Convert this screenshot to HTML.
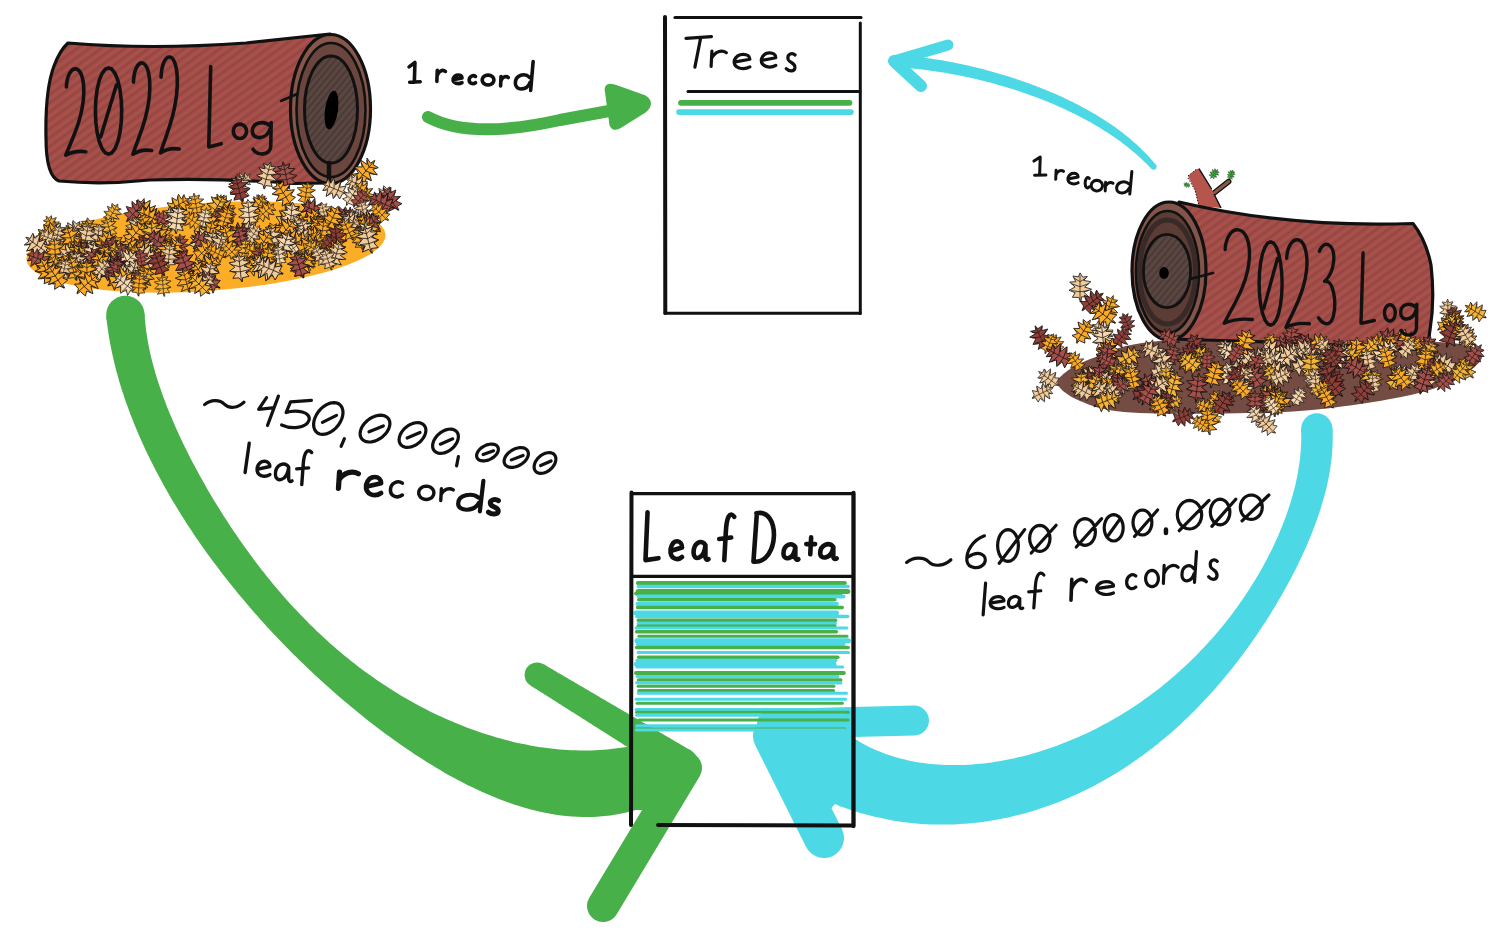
<!DOCTYPE html>
<html><head><meta charset="utf-8"><style>
html,body{margin:0;padding:0;background:#fff;overflow:hidden;}
svg{display:block;}
</style></head><body>
<svg width="1501" height="951" viewBox="0 0 1501 951">
<rect width="1501" height="951" fill="#fff"/>
<defs>
<pattern id="hatch" width="7" height="7" patternUnits="userSpaceOnUse" patternTransform="rotate(-36)">
<rect width="7" height="7" fill="#a24c47"/>
<rect y="0" width="7" height="1.2" fill="#8f4440"/>
<rect y="3.5" width="7" height="1.4" fill="#ad544e"/>
</pattern>
<pattern id="hatch2" width="5" height="5" patternUnits="userSpaceOnUse" patternTransform="rotate(-50)">
<rect width="5" height="5" fill="#574440"/>
<rect y="0" width="5" height="1.2" fill="#463530"/>
<rect y="2.6" width="5" height="0.8" fill="#5f4a44"/>
</pattern>
<g id="lf0"><path d="M0.0,-12.0 L1.2,-8.6 L5.8,-9.3 L3.5,-5.6 L8.9,-4.5 L3.3,-1.3 L8.3,2.0 L4.0,3.3 L6.3,7.8 L1.1,7.1 L0.8,11.0 L-1.1,7.3 L-6.7,8.1 L-3.2,4.0 L-8.9,2.0 L-4.2,-1.6 L-8.7,-5.0 L-2.6,-5.6 L-5.8,-9.4 L-1.2,-8.1Z" stroke="#151010" stroke-width="0.65" stroke-linejoin="round"/><path d="M0,-10 L0,11 M0,-5 L5,-8 M0,-5 L-5,-8 M0,-1 L7,-3.5 M0,-1 L-7,-3.5 M0,3 L7,2 M0,3 L-7,2" fill="none" stroke="#201410" stroke-width="0.6"/></g><g id="lf1"><path d="M0.0,-12.0 L1.7,-8.9 L6.1,-9.0 L3.2,-5.3 L8.2,-4.8 L3.5,-1.0 L8.5,2.1 L3.0,3.1 L6.0,7.8 L1.3,7.5 L0.8,11.0 L-1.3,7.7 L-6.4,7.1 L-3.4,3.3 L-8.3,1.9 L-4.0,-1.0 L-9.0,-4.6 L-3.1,-5.6 L-5.4,-9.3 L-1.0,-8.5Z" stroke="#151010" stroke-width="0.65" stroke-linejoin="round"/><path d="M0,-10 L0,11 M0,-5 L5,-8 M0,-5 L-5,-8 M0,-1 L7,-3.5 M0,-1 L-7,-3.5 M0,3 L7,2 M0,3 L-7,2" fill="none" stroke="#201410" stroke-width="0.6"/></g><g id="lf2"><path d="M0.0,-12.0 L1.2,-8.4 L5.1,-9.2 L3.3,-5.6 L8.6,-4.4 L3.3,-1.2 L8.9,1.5 L4.0,3.8 L6.4,7.2 L1.1,7.9 L0.8,11.0 L-1.7,7.6 L-6.4,7.5 L-3.2,3.5 L-8.4,1.6 L-4.0,-1.0 L-8.2,-5.0 L-3.0,-5.3 L-5.5,-9.2 L-1.5,-8.6Z" stroke="#151010" stroke-width="0.65" stroke-linejoin="round"/><path d="M0,-10 L0,11 M0,-5 L5,-8 M0,-5 L-5,-8 M0,-1 L7,-3.5 M0,-1 L-7,-3.5 M0,3 L7,2 M0,3 L-7,2" fill="none" stroke="#201410" stroke-width="0.6"/></g><g id="lf3"><path d="M0.0,-12.0 L2.2,-8.6 L5.8,-9.2 L2.9,-6.0 L8.6,-5.0 L3.7,-0.7 L9.2,1.0 L3.0,3.2 L6.9,6.9 L1.2,7.0 L0.8,11.0 L-1.1,7.5 L-6.1,7.4 L-3.8,3.8 L-8.7,1.8 L-3.9,-0.8 L-8.2,-4.7 L-3.3,-5.0 L-5.6,-9.5 L-1.3,-8.8Z" stroke="#151010" stroke-width="0.65" stroke-linejoin="round"/><path d="M0,-10 L0,11 M0,-5 L5,-8 M0,-5 L-5,-8 M0,-1 L7,-3.5 M0,-1 L-7,-3.5 M0,3 L7,2 M0,3 L-7,2" fill="none" stroke="#201410" stroke-width="0.6"/></g></defs><ellipse cx="206" cy="247" rx="180" ry="44" transform="rotate(-4 206 247)" fill="#fbad27"/><path d="M1058.0,385.0 L1058.9,386.5 L1060.1,388.1 L1061.7,389.7 L1063.6,391.4 L1065.8,393.1 L1068.2,394.8 L1070.8,396.5 L1073.7,398.1 L1076.8,399.6 L1080.0,401.0 L1083.3,402.3 L1086.6,403.7 L1090.0,405.0 L1093.6,406.2 L1097.5,407.4 L1101.7,408.5 L1106.4,409.6 L1111.6,410.5 L1117.5,411.3 L1124.0,412.0 L1131.4,412.6 L1139.6,413.0 L1148.5,413.3 L1158.0,413.5 L1167.9,413.7 L1178.0,413.7 L1188.2,413.7 L1198.4,413.7 L1208.4,413.6 L1218.0,413.5 L1227.4,413.4 L1236.8,413.3 L1246.2,413.1 L1255.6,413.0 L1265.0,412.7 L1274.4,412.4 L1283.8,412.0 L1293.2,411.5 L1302.6,410.8 L1312.0,410.0 L1321.6,409.0 L1331.5,407.9 L1341.6,406.6 L1351.8,405.3 L1361.9,403.8 L1371.7,402.2 L1381.2,400.7 L1390.1,399.1 L1398.5,397.5 L1406.0,396.0 L1412.8,394.5 L1418.9,393.0 L1424.4,391.5 L1429.5,389.9 L1434.2,388.4 L1438.5,386.8 L1442.6,385.2 L1446.5,383.5 L1450.3,381.8 L1454.0,380.0 L1457.7,378.1 L1461.3,376.1 L1464.8,374.1 L1468.0,372.0 L1471.1,369.8 L1473.8,367.7 L1476.2,365.6 L1478.2,363.6 L1479.9,361.7 L1481.0,360.0 L1481.7,358.4 L1481.9,356.8 L1481.7,355.3 L1481.2,353.9 L1480.3,352.6 L1479.1,351.3 L1477.7,350.1 L1476.0,349.0 L1474.1,347.9 L1472.0,347.0 L1470.1,346.2 L1468.5,345.6 L1466.9,345.0 L1465.2,344.6 L1463.1,344.2 L1460.3,343.9 L1456.6,343.5 L1451.9,343.1 L1445.7,342.6 L1438.0,342.0 L1428.5,341.2 L1417.2,340.2 L1404.6,339.0 L1390.9,337.8 L1376.2,336.6 L1361.1,335.5 L1345.6,334.5 L1330.0,333.7 L1314.8,333.2 L1300.0,333.0 L1285.1,333.1 L1269.3,333.5 L1253.0,334.2 L1236.4,335.0 L1219.9,335.9 L1203.9,337.0 L1188.5,338.2 L1174.2,339.5 L1161.3,340.7 L1150.0,342.0 L1140.4,343.3 L1132.2,344.8 L1125.1,346.3 L1119.1,348.0 L1113.8,349.7 L1109.2,351.4 L1105.0,353.1 L1101.0,354.8 L1097.1,356.4 L1093.0,358.0 L1089.0,359.5 L1085.4,360.9 L1082.1,362.4 L1079.1,363.8 L1076.4,365.2 L1074.0,366.6 L1071.8,367.9 L1069.7,369.3 L1067.8,370.6 L1066.0,372.0 L1064.3,373.3 L1062.7,374.6 L1061.3,375.9 L1060.0,377.1 L1058.9,378.4 L1058.1,379.6 L1057.6,380.9 L1057.4,382.2 L1057.5,383.6Z" fill="#744c44"/><path d="M106.2,316.5 L106.8,321.6 L107.5,326.7 L108.2,331.8 L109.0,336.8 L109.8,341.8 L110.8,346.8 L111.8,351.8 L112.9,356.7 L114.0,361.6 L115.2,366.4 L116.4,371.3 L117.8,376.1 L119.1,380.9 L120.5,385.6 L122.0,390.4 L123.6,395.1 L125.1,399.8 L126.8,404.4 L128.5,409.1 L130.2,413.7 L132.0,418.3 L133.8,422.9 L135.7,427.5 L137.6,432.0 L139.5,436.5 L141.5,441.0 L143.6,445.5 L145.6,449.9 L147.8,454.4 L149.9,458.8 L152.1,463.2 L154.3,467.6 L156.6,471.9 L158.9,476.3 L161.2,480.6 L163.6,484.9 L166.0,489.2 L168.4,493.4 L170.8,497.7 L173.3,501.9 L175.9,506.1 L178.4,510.3 L181.0,514.4 L183.6,518.6 L186.2,522.7 L188.9,526.8 L191.6,530.8 L194.3,534.9 L197.0,538.9 L199.8,543.0 L202.6,547.0 L205.4,550.9 L208.3,554.9 L211.1,558.8 L214.0,562.8 L217.0,566.6 L219.9,570.5 L222.9,574.4 L225.9,578.2 L228.9,582.0 L231.9,585.8 L235.0,589.6 L238.0,593.4 L241.1,597.1 L244.3,600.8 L247.4,604.5 L250.6,608.2 L253.8,611.9 L257.0,615.5 L260.2,619.2 L263.4,622.8 L266.7,626.4 L270.0,629.9 L273.3,633.5 L276.7,637.0 L280.0,640.5 L283.4,644.0 L286.8,647.5 L290.2,651.0 L293.6,654.4 L297.1,657.8 L300.5,661.2 L304.0,664.6 L307.6,668.0 L311.1,671.3 L314.6,674.7 L318.2,678.0 L321.8,681.3 L325.4,684.6 L329.1,687.8 L332.7,691.1 L336.4,694.3 L340.1,697.5 L343.9,700.7 L347.6,703.8 L351.4,707.0 L355.2,710.1 L359.0,713.2 L362.8,716.3 L366.7,719.4 L370.6,722.4 L374.5,725.4 L378.4,728.4 L382.4,731.4 L386.4,734.4 L390.4,737.3 L394.4,740.2 L398.4,743.1 L402.5,746.0 L406.6,748.8 L410.8,751.6 L415.0,754.4 L419.1,757.1 L423.4,759.8 L427.6,762.5 L431.9,765.1 L436.2,767.8 L440.6,770.3 L444.9,772.9 L449.3,775.4 L453.8,777.8 L458.3,780.2 L462.8,782.6 L467.3,784.9 L471.9,787.1 L476.5,789.3 L481.2,791.5 L485.8,793.6 L490.6,795.6 L495.3,797.6 L500.1,799.5 L505.0,801.3 L509.9,803.0 L514.8,804.7 L519.8,806.3 L524.8,807.8 L529.9,809.2 L535.0,810.5 L540.1,811.7 L545.3,812.8 L550.5,813.8 L555.8,814.7 L561.1,815.4 L566.4,816.0 L571.8,816.5 L577.3,816.8 L582.7,817.0 L588.2,817.1 L593.8,816.9 L599.3,816.6 L604.9,816.1 L610.5,815.5 L616.1,814.6 L621.7,813.6 L627.3,812.3 L632.9,810.8 L638.5,809.1 L644.0,807.2 L649.6,805.1 L630.9,746.1 L626.9,746.9 L622.9,747.5 L618.9,748.1 L615.0,748.6 L611.1,749.0 L607.1,749.4 L603.2,749.8 L599.3,750.0 L595.4,750.2 L591.4,750.4 L587.5,750.4 L583.5,750.5 L579.6,750.4 L575.6,750.3 L571.5,750.2 L567.5,750.0 L563.5,749.7 L559.4,749.4 L555.3,749.0 L551.2,748.6 L547.0,748.1 L542.9,747.5 L538.7,746.9 L534.5,746.2 L530.3,745.4 L526.1,744.6 L521.9,743.8 L517.7,742.9 L513.4,741.9 L509.2,740.8 L504.9,739.8 L500.7,738.6 L496.4,737.4 L492.2,736.1 L487.9,734.8 L483.7,733.4 L479.4,732.0 L475.2,730.5 L470.9,729.0 L466.7,727.4 L462.5,725.8 L458.2,724.1 L454.0,722.3 L449.8,720.6 L445.7,718.7 L441.5,716.8 L437.3,714.9 L433.2,712.9 L429.1,710.9 L425.0,708.8 L420.9,706.7 L416.8,704.5 L412.8,702.3 L408.8,700.0 L404.8,697.7 L400.8,695.4 L396.9,693.0 L392.9,690.6 L389.0,688.1 L385.2,685.6 L381.3,683.0 L377.5,680.4 L373.7,677.8 L369.9,675.1 L366.2,672.4 L362.4,669.7 L358.7,666.9 L355.1,664.1 L351.4,661.2 L347.8,658.3 L344.3,655.4 L340.7,652.5 L337.2,649.5 L333.7,646.5 L330.2,643.4 L326.8,640.3 L323.4,637.2 L320.0,634.0 L316.6,630.9 L313.3,627.6 L310.0,624.4 L306.7,621.1 L303.5,617.8 L300.3,614.5 L297.1,611.1 L293.9,607.8 L290.8,604.4 L287.7,600.9 L284.6,597.5 L281.6,594.0 L278.6,590.5 L275.6,586.9 L272.6,583.4 L269.7,579.8 L266.7,576.2 L263.9,572.5 L261.0,568.9 L258.2,565.2 L255.3,561.5 L252.6,557.8 L249.8,554.1 L247.1,550.3 L244.3,546.6 L241.7,542.8 L239.0,539.0 L236.4,535.1 L233.7,531.3 L231.2,527.4 L228.6,523.5 L226.1,519.6 L223.5,515.7 L221.1,511.8 L218.6,507.8 L216.2,503.9 L213.7,499.9 L211.4,495.9 L209.0,491.9 L206.7,487.9 L204.4,483.8 L202.1,479.8 L199.8,475.7 L197.6,471.6 L195.4,467.6 L193.2,463.5 L191.1,459.4 L189.0,455.2 L186.9,451.1 L184.8,446.9 L182.8,442.8 L180.8,438.6 L178.9,434.4 L177.0,430.3 L175.1,426.1 L173.3,421.8 L171.5,417.6 L169.7,413.4 L168.0,409.2 L166.3,404.9 L164.7,400.6 L163.1,396.4 L161.6,392.1 L160.1,387.8 L158.6,383.5 L157.3,379.2 L155.9,374.9 L154.7,370.6 L153.5,366.2 L152.3,361.9 L151.2,357.5 L150.2,353.2 L149.3,348.8 L148.4,344.4 L147.6,340.0 L146.9,335.6 L146.2,331.2 L145.7,326.7 L145.2,322.3 L144.8,317.9 L144.5,313.4Z" fill="#48b049"/><circle cx="125.4" cy="314.9" r="19.2" fill="#48b049"/><circle cx="640.3" cy="775.6" r="30.9" fill="#48b049"/><path d="M530.6,685.6 L531.5,686.1 L532.4,686.7 L533.3,687.3 L534.2,687.9 L535.1,688.4 L536.0,689.0 L536.9,689.6 L537.8,690.2 L538.7,690.7 L539.7,691.3 L540.6,691.9 L541.5,692.5 L542.4,693.0 L543.3,693.6 L544.2,694.2 L545.1,694.8 L546.0,695.3 L546.9,695.9 L547.8,696.5 L548.7,697.1 L549.6,697.6 L550.6,698.2 L551.5,698.8 L552.4,699.4 L553.3,699.9 L554.2,700.5 L555.1,701.1 L556.0,701.7 L556.9,702.3 L557.8,702.8 L558.7,703.4 L559.6,704.0 L560.5,704.6 L561.5,705.1 L562.4,705.7 L563.3,706.3 L564.2,706.9 L565.1,707.4 L566.0,708.0 L566.9,708.6 L567.8,709.2 L568.7,709.7 L569.6,710.3 L570.5,710.9 L571.4,711.5 L572.4,712.0 L573.3,712.6 L574.2,713.2 L575.1,713.8 L576.0,714.3 L576.9,714.9 L577.8,715.5 L578.7,716.1 L579.6,716.6 L580.5,717.2 L581.4,717.8 L582.3,718.4 L583.3,719.0 L584.2,719.5 L585.1,720.1 L586.0,720.7 L586.9,721.3 L587.8,721.8 L588.7,722.4 L589.6,723.0 L590.5,723.6 L591.4,724.1 L592.3,724.7 L593.2,725.3 L594.2,725.9 L595.1,726.4 L596.0,727.0 L596.9,727.6 L597.8,728.2 L598.7,728.7 L599.6,729.3 L600.5,729.9 L601.4,730.5 L602.3,731.0 L603.2,731.6 L604.1,732.2 L605.1,732.8 L606.0,733.3 L606.9,733.9 L607.8,734.5 L608.7,735.1 L609.6,735.7 L610.5,736.2 L611.4,736.8 L612.3,737.4 L613.2,738.0 L614.1,738.5 L615.0,739.1 L616.0,739.7 L616.9,740.3 L617.8,740.8 L618.7,741.4 L619.6,742.0 L620.5,742.6 L621.4,743.1 L622.3,743.7 L623.2,744.3 L624.1,744.9 L625.0,745.4 L626.0,746.0 L626.9,746.6 L627.8,747.2 L628.7,747.7 L629.6,748.3 L630.5,748.9 L631.4,749.5 L632.3,750.0 L633.2,750.6 L634.1,751.2 L635.0,751.8 L635.9,752.4 L636.9,752.9 L637.8,753.5 L638.7,754.1 L639.6,754.7 L640.5,755.2 L641.4,755.8 L642.3,756.4 L643.2,757.0 L644.1,757.5 L645.0,758.1 L645.9,758.7 L646.8,759.3 L647.8,759.8 L648.7,760.4 L649.6,761.0 L650.5,761.6 L651.4,762.1 L652.3,762.7 L653.2,763.3 L654.1,763.9 L655.0,764.4 L655.9,765.0 L656.8,765.6 L657.7,766.2 L658.7,766.7 L659.6,767.3 L660.5,767.9 L661.4,768.5 L662.3,769.1 L663.2,769.6 L664.1,770.2 L665.0,770.8 L665.9,771.4 L666.8,771.9 L667.7,772.5 L668.6,773.1 L669.6,773.7 L670.5,774.2 L671.4,774.8 L672.3,775.4 L673.2,776.0 L674.1,776.5 L675.0,777.1 L691.1,750.6 L690.2,750.1 L689.3,749.6 L688.4,749.0 L687.4,748.5 L686.5,747.9 L685.6,747.4 L684.6,746.8 L683.7,746.3 L682.8,745.7 L681.9,745.2 L680.9,744.7 L680.0,744.1 L679.1,743.6 L678.1,743.0 L677.2,742.5 L676.3,741.9 L675.4,741.4 L674.4,740.9 L673.5,740.3 L672.6,739.8 L671.7,739.2 L670.7,738.7 L669.8,738.1 L668.9,737.6 L667.9,737.1 L667.0,736.5 L666.1,736.0 L665.2,735.4 L664.2,734.9 L663.3,734.3 L662.4,733.8 L661.4,733.2 L660.5,732.7 L659.6,732.2 L658.7,731.6 L657.7,731.1 L656.8,730.5 L655.9,730.0 L654.9,729.4 L654.0,728.9 L653.1,728.4 L652.2,727.8 L651.2,727.3 L650.3,726.7 L649.4,726.2 L648.5,725.6 L647.5,725.1 L646.6,724.5 L645.7,724.0 L644.7,723.5 L643.8,722.9 L642.9,722.4 L642.0,721.8 L641.0,721.3 L640.1,720.7 L639.2,720.2 L638.2,719.7 L637.3,719.1 L636.4,718.6 L635.5,718.0 L634.5,717.5 L633.6,716.9 L632.7,716.4 L631.7,715.8 L630.8,715.3 L629.9,714.8 L629.0,714.2 L628.0,713.7 L627.1,713.1 L626.2,712.6 L625.3,712.0 L624.3,711.5 L623.4,711.0 L622.5,710.4 L621.5,709.9 L620.6,709.3 L619.7,708.8 L618.8,708.2 L617.8,707.7 L616.9,707.2 L616.0,706.6 L615.0,706.1 L614.1,705.5 L613.2,705.0 L612.3,704.4 L611.3,703.9 L610.4,703.3 L609.5,702.8 L608.5,702.3 L607.6,701.7 L606.7,701.2 L605.8,700.6 L604.8,700.1 L603.9,699.5 L603.0,699.0 L602.0,698.5 L601.1,697.9 L600.2,697.4 L599.3,696.8 L598.3,696.3 L597.4,695.7 L596.5,695.2 L595.6,694.6 L594.6,694.1 L593.7,693.6 L592.8,693.0 L591.8,692.5 L590.9,691.9 L590.0,691.4 L589.1,690.8 L588.1,690.3 L587.2,689.8 L586.3,689.2 L585.3,688.7 L584.4,688.1 L583.5,687.6 L582.6,687.0 L581.6,686.5 L580.7,685.9 L579.8,685.4 L578.8,684.9 L577.9,684.3 L577.0,683.8 L576.1,683.2 L575.1,682.7 L574.2,682.1 L573.3,681.6 L572.4,681.1 L571.4,680.5 L570.5,680.0 L569.6,679.4 L568.6,678.9 L567.7,678.3 L566.8,677.8 L565.9,677.3 L564.9,676.7 L564.0,676.2 L563.1,675.6 L562.1,675.1 L561.2,674.5 L560.3,674.0 L559.4,673.4 L558.4,672.9 L557.5,672.4 L556.6,671.8 L555.6,671.3 L554.7,670.7 L553.8,670.2 L552.9,669.6 L551.9,669.1 L551.0,668.6 L550.1,668.0 L549.1,667.5 L548.2,666.9 L547.3,666.4 L546.4,665.8 L545.4,665.3 L544.5,664.7 L543.6,664.2Z" fill="#48b049"/><circle cx="537.1" cy="674.9" r="12.5" fill="#48b049"/><circle cx="683.1" cy="763.9" r="15.5" fill="#48b049"/><line x1="686" y1="768" x2="603" y2="906" stroke="#48b049" stroke-width="32" stroke-linecap="round"/><path d="M630,748 L700,766 L662,810 L630,810 Z" fill="#48b049"/><path d="M1301.1,429.7 L1301.2,433.6 L1301.3,437.6 L1301.2,441.5 L1301.0,445.4 L1300.8,449.4 L1300.5,453.3 L1300.1,457.2 L1299.7,461.2 L1299.1,465.1 L1298.5,469.0 L1297.8,472.9 L1297.1,476.9 L1296.3,480.8 L1295.4,484.7 L1294.4,488.6 L1293.4,492.5 L1292.3,496.4 L1291.2,500.3 L1290.0,504.2 L1288.8,508.1 L1287.4,511.9 L1286.1,515.8 L1284.7,519.6 L1283.2,523.5 L1281.7,527.3 L1280.1,531.1 L1278.5,534.9 L1276.8,538.7 L1275.1,542.4 L1273.4,546.2 L1271.6,549.9 L1269.7,553.6 L1267.9,557.3 L1265.9,561.0 L1264.0,564.6 L1262.0,568.2 L1259.9,571.9 L1257.8,575.5 L1255.7,579.0 L1253.5,582.6 L1251.3,586.1 L1249.1,589.6 L1246.8,593.1 L1244.5,596.5 L1242.2,599.9 L1239.8,603.3 L1237.4,606.7 L1235.0,610.1 L1232.5,613.4 L1230.0,616.7 L1227.5,620.0 L1224.9,623.2 L1222.3,626.4 L1219.7,629.6 L1217.0,632.8 L1214.3,635.9 L1211.6,639.0 L1208.9,642.1 L1206.1,645.1 L1203.3,648.1 L1200.4,651.1 L1197.6,654.0 L1194.7,657.0 L1191.8,659.8 L1188.8,662.7 L1185.8,665.5 L1182.8,668.3 L1179.8,671.0 L1176.8,673.8 L1173.7,676.4 L1170.6,679.1 L1167.5,681.7 L1164.3,684.3 L1161.1,686.9 L1157.9,689.4 L1154.7,691.8 L1151.5,694.3 L1148.2,696.7 L1144.9,699.1 L1141.6,701.4 L1138.3,703.7 L1134.9,706.0 L1131.5,708.2 L1128.1,710.4 L1124.7,712.5 L1121.2,714.7 L1117.8,716.7 L1114.3,718.8 L1110.8,720.8 L1107.3,722.7 L1103.7,724.6 L1100.2,726.5 L1096.6,728.4 L1093.0,730.2 L1089.4,731.9 L1085.8,733.7 L1082.1,735.3 L1078.5,737.0 L1074.8,738.6 L1071.1,740.1 L1067.4,741.6 L1063.7,743.1 L1060.0,744.5 L1056.3,745.9 L1052.5,747.3 L1048.7,748.6 L1045.0,749.8 L1041.2,751.0 L1037.4,752.2 L1033.6,753.3 L1029.8,754.4 L1026.0,755.4 L1022.2,756.4 L1018.3,757.3 L1014.5,758.2 L1010.7,759.0 L1006.8,759.8 L1003.0,760.5 L999.1,761.2 L995.3,761.8 L991.5,762.4 L987.6,762.9 L983.8,763.4 L979.9,763.8 L976.1,764.1 L972.2,764.4 L968.4,764.7 L964.6,764.9 L960.8,765.0 L957.0,765.1 L953.1,765.1 L949.4,765.1 L945.6,765.0 L941.8,764.8 L938.0,764.6 L934.3,764.3 L930.5,763.9 L926.8,763.5 L923.1,763.0 L919.4,762.5 L915.8,761.9 L912.1,761.2 L908.5,760.4 L904.9,759.6 L901.3,758.7 L897.7,757.7 L894.2,756.7 L890.7,755.6 L887.2,754.4 L883.7,753.2 L880.3,751.8 L876.9,750.4 L873.5,749.0 L870.1,747.4 L866.8,745.7 L863.5,744.0 L860.3,742.2 L857.1,740.3 L853.9,738.4 L822.1,798.7 L826.8,800.8 L831.4,802.7 L836.1,804.6 L840.7,806.4 L845.4,808.1 L850.1,809.7 L854.8,811.2 L859.5,812.7 L864.2,814.0 L869.0,815.3 L873.7,816.5 L878.4,817.6 L883.2,818.6 L887.9,819.6 L892.7,820.5 L897.4,821.2 L902.2,821.9 L906.9,822.5 L911.7,823.1 L916.5,823.5 L921.2,823.9 L926.0,824.2 L930.7,824.4 L935.5,824.6 L940.2,824.6 L945.0,824.6 L949.7,824.5 L954.4,824.4 L959.2,824.1 L963.9,823.8 L968.6,823.5 L973.3,823.0 L978.0,822.5 L982.6,821.9 L987.3,821.2 L991.9,820.5 L996.5,819.7 L1001.2,818.8 L1005.7,817.9 L1010.3,816.9 L1014.9,815.8 L1019.4,814.7 L1023.9,813.5 L1028.4,812.2 L1032.9,810.9 L1037.4,809.5 L1041.8,808.0 L1046.2,806.5 L1050.6,805.0 L1054.9,803.4 L1059.3,801.7 L1063.6,800.0 L1067.8,798.2 L1072.1,796.3 L1076.3,794.4 L1080.5,792.5 L1084.6,790.5 L1088.8,788.5 L1092.9,786.4 L1096.9,784.2 L1101.0,782.0 L1105.0,779.8 L1109.0,777.5 L1112.9,775.2 L1116.8,772.8 L1120.7,770.4 L1124.5,767.9 L1128.3,765.4 L1132.1,762.8 L1135.8,760.3 L1139.5,757.6 L1143.2,755.0 L1146.9,752.3 L1150.5,749.5 L1154.0,746.8 L1157.6,743.9 L1161.1,741.1 L1164.5,738.2 L1168.0,735.3 L1171.4,732.4 L1174.7,729.4 L1178.1,726.4 L1181.4,723.4 L1184.6,720.3 L1187.9,717.2 L1191.1,714.1 L1194.2,710.9 L1197.4,707.7 L1200.5,704.5 L1203.5,701.3 L1206.6,698.1 L1209.6,694.8 L1212.6,691.5 L1215.5,688.2 L1218.4,684.8 L1221.3,681.4 L1224.2,678.0 L1227.0,674.6 L1229.8,671.2 L1232.6,667.7 L1235.3,664.2 L1238.0,660.7 L1240.7,657.2 L1243.3,653.7 L1246.0,650.1 L1248.6,646.5 L1251.1,642.9 L1253.7,639.3 L1256.2,635.7 L1258.7,632.0 L1261.1,628.3 L1263.6,624.6 L1266.0,620.9 L1268.4,617.2 L1270.7,613.5 L1273.0,609.7 L1275.3,605.9 L1277.6,602.1 L1279.8,598.3 L1282.0,594.4 L1284.2,590.6 L1286.4,586.7 L1288.5,582.8 L1290.6,578.9 L1292.6,575.0 L1294.7,571.0 L1296.7,567.1 L1298.6,563.1 L1300.5,559.1 L1302.4,555.0 L1304.3,551.0 L1306.1,546.9 L1307.9,542.8 L1309.6,538.7 L1311.3,534.6 L1312.9,530.4 L1314.5,526.3 L1316.1,522.1 L1317.6,517.9 L1319.0,513.6 L1320.4,509.4 L1321.7,505.1 L1323.0,500.8 L1324.2,496.4 L1325.4,492.1 L1326.5,487.7 L1327.5,483.3 L1328.4,478.8 L1329.3,474.4 L1330.0,469.9 L1330.7,465.3 L1331.3,460.8 L1331.8,456.2 L1332.2,451.6 L1332.5,447.0 L1332.7,442.3 L1332.7,437.7 L1332.7,433.0 L1332.5,428.2Z" fill="#4cd8e4"/><circle cx="1316.8" cy="429.0" r="15.7" fill="#4cd8e4"/><circle cx="838.0" cy="768.5" r="34.1" fill="#4cd8e4"/><line x1="914" y1="720.5" x2="772" y2="724" stroke="#4cd8e4" stroke-width="30" stroke-linecap="round"/><line x1="773" y1="736" x2="824" y2="838" stroke="#4cd8e4" stroke-width="40" stroke-linecap="round"/><path d="M758,722 L800,715 L855,722 L855,775 L846,790 L830,810 Z" fill="#4cd8e4"/><path d="M428,117 Q470,140 560,120 L620,109" fill="none" stroke="#48b049" stroke-width="12" stroke-linecap="round"/><path d="M608,92 Q606,84 616,88 L644,98 Q652,103 644,110 L620,125 Q612,130 612,121 Z" fill="#48b049" stroke="#48b049" stroke-width="6" stroke-linejoin="round"/><path d="M1155.9,164.8 L1154.7,163.4 L1153.5,162.0 L1152.3,160.6 L1151.1,159.2 L1149.9,157.8 L1148.6,156.5 L1147.4,155.1 L1146.1,153.8 L1144.8,152.5 L1143.5,151.2 L1142.2,149.9 L1140.9,148.6 L1139.6,147.3 L1138.2,146.1 L1136.9,144.8 L1135.5,143.6 L1134.2,142.4 L1132.8,141.2 L1131.4,140.0 L1130.0,138.8 L1128.6,137.6 L1127.2,136.5 L1125.8,135.3 L1124.3,134.2 L1122.9,133.1 L1121.5,132.0 L1120.0,130.8 L1118.5,129.8 L1117.1,128.7 L1115.6,127.6 L1114.1,126.5 L1112.6,125.5 L1111.1,124.5 L1109.6,123.4 L1108.1,122.4 L1106.5,121.4 L1105.0,120.4 L1103.5,119.4 L1101.9,118.4 L1100.4,117.5 L1098.8,116.5 L1097.2,115.5 L1095.7,114.6 L1094.1,113.7 L1092.5,112.7 L1090.9,111.8 L1089.3,110.9 L1087.7,110.0 L1086.1,109.1 L1084.5,108.3 L1082.9,107.4 L1081.3,106.5 L1079.7,105.7 L1078.1,104.8 L1076.4,104.0 L1074.8,103.2 L1073.2,102.3 L1071.5,101.5 L1069.9,100.7 L1068.2,99.9 L1066.6,99.1 L1064.9,98.4 L1063.3,97.6 L1061.6,96.8 L1059.9,96.1 L1058.3,95.3 L1056.6,94.6 L1054.9,93.8 L1053.2,93.1 L1051.5,92.4 L1049.9,91.7 L1048.2,91.0 L1046.5,90.3 L1044.8,89.6 L1043.1,88.9 L1041.4,88.2 L1039.7,87.5 L1038.0,86.9 L1036.3,86.2 L1034.6,85.6 L1032.9,84.9 L1031.1,84.3 L1029.4,83.6 L1027.7,83.0 L1026.0,82.4 L1024.3,81.8 L1022.5,81.2 L1020.8,80.6 L1019.1,80.0 L1017.4,79.4 L1015.6,78.8 L1013.9,78.3 L1012.2,77.7 L1010.4,77.1 L1008.7,76.6 L1006.9,76.0 L1005.2,75.5 L1003.5,75.0 L1001.7,74.4 L1000.0,73.9 L998.2,73.4 L996.5,72.9 L994.7,72.4 L993.0,71.9 L991.2,71.4 L989.5,70.9 L987.7,70.5 L985.9,70.0 L984.2,69.5 L982.4,69.1 L980.7,68.6 L978.9,68.2 L977.1,67.7 L975.4,67.3 L973.6,66.9 L971.8,66.5 L970.1,66.0 L968.3,65.6 L966.5,65.2 L964.7,64.8 L963.0,64.5 L961.2,64.1 L959.4,63.7 L957.6,63.3 L955.8,63.0 L954.1,62.6 L952.3,62.3 L950.5,61.9 L948.7,61.6 L946.9,61.3 L945.1,61.0 L943.3,60.6 L941.5,60.3 L939.8,60.0 L938.0,59.7 L936.2,59.5 L934.4,59.2 L932.6,58.9 L930.8,58.6 L929.0,58.4 L927.1,58.1 L925.3,57.9 L923.5,57.7 L921.7,57.4 L919.9,57.2 L918.1,57.0 L916.3,56.8 L914.5,56.6 L912.6,56.4 L910.8,56.3 L909.0,56.1 L907.2,55.9 L905.3,55.8 L903.5,55.6 L901.7,55.5 L899.8,55.4 L898.0,55.2 L896.1,55.1 L894.3,55.0 L893.6,67.0 L895.4,67.1 L897.2,67.3 L899.0,67.4 L900.8,67.5 L902.6,67.6 L904.3,67.8 L906.1,67.9 L907.9,68.1 L909.7,68.2 L911.5,68.4 L913.2,68.6 L915.0,68.8 L916.8,68.9 L918.5,69.1 L920.3,69.3 L922.1,69.6 L923.8,69.8 L925.6,70.0 L927.4,70.2 L929.1,70.4 L930.9,70.7 L932.6,70.9 L934.4,71.2 L936.1,71.4 L937.9,71.7 L939.6,72.0 L941.4,72.3 L943.2,72.5 L944.9,72.8 L946.7,73.1 L948.4,73.4 L950.1,73.8 L951.9,74.1 L953.6,74.4 L955.4,74.7 L957.1,75.1 L958.9,75.4 L960.6,75.7 L962.3,76.1 L964.1,76.5 L965.8,76.8 L967.6,77.2 L969.3,77.6 L971.0,78.0 L972.8,78.3 L974.5,78.7 L976.2,79.1 L978.0,79.6 L979.7,80.0 L981.4,80.4 L983.1,80.8 L984.9,81.3 L986.6,81.7 L988.3,82.1 L990.0,82.6 L991.8,83.1 L993.5,83.5 L995.2,84.0 L996.9,84.5 L998.6,85.0 L1000.3,85.4 L1002.1,85.9 L1003.8,86.4 L1005.5,87.0 L1007.2,87.5 L1008.9,88.0 L1010.6,88.5 L1012.3,89.1 L1014.0,89.6 L1015.7,90.1 L1017.4,90.7 L1019.1,91.3 L1020.8,91.8 L1022.5,92.4 L1024.2,93.0 L1025.9,93.6 L1027.6,94.2 L1029.3,94.8 L1030.9,95.4 L1032.6,96.0 L1034.3,96.6 L1036.0,97.2 L1037.6,97.8 L1039.3,98.5 L1041.0,99.1 L1042.6,99.8 L1044.3,100.4 L1046.0,101.1 L1047.6,101.8 L1049.3,102.5 L1050.9,103.1 L1052.6,103.8 L1054.2,104.5 L1055.9,105.2 L1057.5,106.0 L1059.1,106.7 L1060.8,107.4 L1062.4,108.1 L1064.0,108.9 L1065.6,109.6 L1067.3,110.4 L1068.9,111.2 L1070.5,111.9 L1072.1,112.7 L1073.7,113.5 L1075.3,114.3 L1076.9,115.1 L1078.5,115.9 L1080.0,116.7 L1081.6,117.5 L1083.2,118.4 L1084.8,119.2 L1086.3,120.0 L1087.9,120.9 L1089.4,121.8 L1091.0,122.6 L1092.5,123.5 L1094.1,124.4 L1095.6,125.3 L1097.1,126.2 L1098.7,127.1 L1100.2,128.0 L1101.7,129.0 L1103.2,129.9 L1104.7,130.9 L1106.2,131.8 L1107.7,132.8 L1109.2,133.7 L1110.6,134.7 L1112.1,135.7 L1113.6,136.7 L1115.0,137.7 L1116.5,138.7 L1117.9,139.8 L1119.3,140.8 L1120.8,141.8 L1122.2,142.9 L1123.6,144.0 L1125.0,145.0 L1126.4,146.1 L1127.8,147.2 L1129.2,148.3 L1130.5,149.4 L1131.9,150.6 L1133.3,151.7 L1134.6,152.8 L1136.0,154.0 L1137.3,155.2 L1138.6,156.3 L1139.9,157.5 L1141.2,158.7 L1142.5,159.9 L1143.8,161.2 L1145.1,162.4 L1146.4,163.6 L1147.7,164.9 L1148.9,166.2 L1150.2,167.5 L1151.4,168.8Z" fill="#4cd8e4"/><circle cx="1153.6" cy="166.8" r="3.0" fill="#4cd8e4"/><circle cx="894.0" cy="61.0" r="6.0" fill="#4cd8e4"/><line x1="894" y1="61" x2="948" y2="45" stroke="#4cd8e4" stroke-width="11" stroke-linecap="round"/><line x1="896" y1="63" x2="921" y2="86" stroke="#4cd8e4" stroke-width="12" stroke-linecap="round"/><path d="M68,43 Q150,50 246,43 L330,34 L330,183 L294,183.5 Q222,178 150,180 Q102,185 59,181 Q46,176 46,138 Q45,90 54,66 Q60,50 68,43 Z" fill="url(#hatch)" stroke="#111" stroke-width="3.2" stroke-linejoin="round"/><ellipse cx="330.5" cy="109" rx="40" ry="74.5" fill="#87574a" stroke="#111" stroke-width="3.2"/><ellipse cx="331" cy="110" rx="34.5" ry="67" fill="#6a463e" stroke="#111" stroke-width="2.6"/><ellipse cx="331" cy="109.5" rx="26.5" ry="53.6" fill="url(#hatch2)" stroke="#111" stroke-width="3"/><ellipse cx="331.5" cy="110" rx="6.5" ry="19.5" fill="#000" transform="rotate(8 331.5 110)"/><line x1="281" y1="101" x2="297" y2="94" stroke="#111" stroke-width="2.5" stroke-linecap="round"/><line x1="329" y1="163" x2="329" y2="182" stroke="#111" stroke-width="4.5" stroke-linecap="round"/><path d="M1207.9,197.9 L1228.7,181.5" stroke="#111" stroke-width="5.5" stroke-linecap="round"/><path d="M1207.9,197.9 L1228.7,181.5" stroke="#8a5a48" stroke-width="3" stroke-linecap="round"/><path d="M1188,176 L1196,169.5 L1199,168.6 L1211.6,189 L1221,208 L1199,206 L1195,190 Z" fill="#b5554b"/><path d="M1199,168.6 L1211.6,189 M1214,194 L1221,208" stroke="#111" stroke-width="1.4" fill="none"/><path d="M1188,176 L1196,169.5 M1188,178 L1195,190 L1199,206" stroke="#111" stroke-width="1" stroke-dasharray="1.5 1.5" fill="none"/><use href="#lf0" fill="#3dba3d" transform="translate(1214,174) rotate(40) scale(0.5)"/><use href="#lf1" fill="#3dba3d" transform="translate(1231,175) rotate(20) scale(0.45)"/><use href="#lf2" fill="#3dba3d" transform="translate(1187,185) rotate(-70) scale(0.3)"/><path d="M1179,202 Q1290,228 1413,223.5 Q1426,240 1431,265 Q1435,300 1430,330 L1427,350 Q1300,342 1170,339 Z" fill="url(#hatch)" stroke="#111" stroke-width="3.2" stroke-linejoin="round"/><ellipse cx="1169" cy="271" rx="37" ry="69" fill="#82544a" stroke="#111" stroke-width="3.2"/><ellipse cx="1167.5" cy="272" rx="31.5" ry="61" fill="#5b3d36" stroke="#111" stroke-width="2.6"/><ellipse cx="1167.5" cy="272" rx="28" ry="52" fill="none" stroke="#3a2a27" stroke-width="5"/><ellipse cx="1167" cy="271" rx="23.6" ry="36.6" fill="url(#hatch2)" stroke="#111" stroke-width="2.8"/><ellipse cx="1164" cy="273" rx="4.8" ry="6" fill="#000"/><line x1="1190" y1="279" x2="1213" y2="273" stroke="#111" stroke-width="2.8" stroke-linecap="round"/><use href="#lf0" fill="#f9ab27" transform="translate(365,172) rotate(40) scale(1.27)"/><use href="#lf2" fill="#f0cc9c" transform="translate(267,176) rotate(15) scale(1.21)"/><use href="#lf2" fill="#a5504a" transform="translate(286,176) rotate(-12) scale(1.21)"/><use href="#lf1" fill="#f0cc9c" transform="translate(242,182) rotate(47) scale(0.94)"/><use href="#lf0" fill="#f0cc9c" transform="translate(357,184) rotate(-64) scale(1.07)"/><use href="#lf0" fill="#f0cc9c" transform="translate(240,188) rotate(-11) scale(1.19)"/><use href="#lf1" fill="#f0cc9c" transform="translate(335,189) rotate(-67) scale(1.15)"/><use href="#lf2" fill="#8f3f3a" transform="translate(239,190) rotate(-14) scale(1.16)"/><use href="#lf1" fill="#f9ab27" transform="translate(364,193) rotate(-41) scale(1.13)"/><use href="#lf2" fill="#f9ab27" transform="translate(284,194) rotate(-32) scale(1.24)"/><use href="#lf1" fill="#f9ab27" transform="translate(306,194) rotate(8) scale(1.07)"/><use href="#lf2" fill="#f5d8b0" transform="translate(352,196) rotate(33) scale(1.00)"/><use href="#lf3" fill="#f0cc9c" transform="translate(383,197) rotate(34) scale(1.02)"/><use href="#lf2" fill="#a5504a" transform="translate(360,199) rotate(41) scale(0.95)"/><use href="#lf1" fill="#a5504a" transform="translate(391,200) rotate(-34) scale(1.17)"/><use href="#lf3" fill="#a5504a" transform="translate(382,203) rotate(-66) scale(1.23)"/><use href="#lf2" fill="#f9ab27" transform="translate(196,205) rotate(-10) scale(1.01)"/><use href="#lf3" fill="#f9ab27" transform="translate(259,205) rotate(18) scale(0.95)"/><use href="#lf2" fill="#f9ab27" transform="translate(178,205) rotate(61) scale(1.12)"/><use href="#lf3" fill="#f9ab27" transform="translate(224,206) rotate(-47) scale(1.07)"/><use href="#lf0" fill="#f9ab27" transform="translate(258,206) rotate(35) scale(1.03)"/><use href="#lf0" fill="#f3b438" transform="translate(217,207) rotate(31) scale(1.17)"/><use href="#lf0" fill="#f0cc9c" transform="translate(363,211) rotate(-14) scale(0.92)"/><use href="#lf0" fill="#a5504a" transform="translate(315,211) rotate(-64) scale(1.27)"/><use href="#lf3" fill="#f9ab27" transform="translate(146,212) rotate(-40) scale(1.25)"/><use href="#lf3" fill="#a5504a" transform="translate(135,212) rotate(44) scale(1.17)"/><use href="#lf1" fill="#f9ab27" transform="translate(265,212) rotate(47) scale(1.02)"/><use href="#lf3" fill="#f0cc9c" transform="translate(324,213) rotate(-14) scale(0.91)"/><use href="#lf1" fill="#f9ab27" transform="translate(380,213) rotate(-46) scale(1.03)"/><use href="#lf3" fill="#f5d8b0" transform="translate(249,214) rotate(-5) scale(1.22)"/><use href="#lf3" fill="#f3b438" transform="translate(112,214) rotate(30) scale(0.96)"/><use href="#lf0" fill="#f9ab27" transform="translate(224,215) rotate(57) scale(1.12)"/><use href="#lf2" fill="#f0cc9c" transform="translate(345,217) rotate(-69) scale(0.88)"/><use href="#lf1" fill="#f3b438" transform="translate(288,217) rotate(49) scale(1.25)"/><use href="#lf1" fill="#a5504a" transform="translate(341,217) rotate(53) scale(1.04)"/><use href="#lf1" fill="#f0cc9c" transform="translate(177,217) rotate(-66) scale(1.21)"/><use href="#lf3" fill="#f5d8b0" transform="translate(291,217) rotate(6) scale(1.24)"/><use href="#lf2" fill="#a5504a" transform="translate(224,217) rotate(-59) scale(0.98)"/><use href="#lf1" fill="#f9ab27" transform="translate(150,217) rotate(-65) scale(1.25)"/><use href="#lf3" fill="#f9ab27" transform="translate(336,218) rotate(-32) scale(0.89)"/><use href="#lf1" fill="#a5504a" transform="translate(164,219) rotate(-66) scale(0.91)"/><use href="#lf3" fill="#f9ab27" transform="translate(332,219) rotate(26) scale(1.19)"/><use href="#lf1" fill="#f9ab27" transform="translate(225,219) rotate(18) scale(1.04)"/><use href="#lf1" fill="#f5d8b0" transform="translate(204,219) rotate(12) scale(0.98)"/><use href="#lf0" fill="#f5d8b0" transform="translate(173,220) rotate(15) scale(1.02)"/><use href="#lf1" fill="#f5d8b0" transform="translate(177,220) rotate(7) scale(1.25)"/><use href="#lf0" fill="#a5504a" transform="translate(349,221) rotate(5) scale(1.17)"/><use href="#lf2" fill="#f9ab27" transform="translate(311,221) rotate(34) scale(1.17)"/><use href="#lf1" fill="#f9ab27" transform="translate(193,221) rotate(-56) scale(0.95)"/><use href="#lf0" fill="#f9ab27" transform="translate(363,223) rotate(49) scale(1.23)"/><use href="#lf2" fill="#f0cc9c" transform="translate(352,224) rotate(2) scale(1.26)"/><use href="#lf0" fill="#f9ab27" transform="translate(145,224) rotate(-26) scale(0.92)"/><use href="#lf3" fill="#f0cc9c" transform="translate(353,224) rotate(-52) scale(1.06)"/><use href="#lf2" fill="#f9ab27" transform="translate(318,225) rotate(3) scale(0.89)"/><use href="#lf3" fill="#f9ab27" transform="translate(369,225) rotate(-58) scale(1.21)"/><use href="#lf2" fill="#f9ab27" transform="translate(52,225) rotate(-33) scale(0.90)"/><use href="#lf2" fill="#a5504a" transform="translate(369,226) rotate(43) scale(1.21)"/><use href="#lf1" fill="#f0cc9c" transform="translate(351,227) rotate(48) scale(0.91)"/><use href="#lf3" fill="#f0cc9c" transform="translate(298,227) rotate(-23) scale(1.01)"/><use href="#lf0" fill="#f0cc9c" transform="translate(134,227) rotate(21) scale(0.92)"/><use href="#lf1" fill="#f3b438" transform="translate(314,228) rotate(46) scale(1.25)"/><use href="#lf0" fill="#f3b438" transform="translate(109,228) rotate(-16) scale(0.96)"/><use href="#lf0" fill="#f9ab27" transform="translate(368,228) rotate(-52) scale(1.05)"/><use href="#lf2" fill="#f5d8b0" transform="translate(304,230) rotate(42) scale(1.00)"/><use href="#lf2" fill="#f9ab27" transform="translate(348,230) rotate(-25) scale(1.05)"/><use href="#lf0" fill="#f9ab27" transform="translate(317,230) rotate(3) scale(1.19)"/><use href="#lf2" fill="#f3b438" transform="translate(146,230) rotate(58) scale(0.94)"/><use href="#lf3" fill="#f9ab27" transform="translate(89,231) rotate(-7) scale(1.11)"/><use href="#lf0" fill="#f0cc9c" transform="translate(305,231) rotate(-19) scale(1.06)"/><use href="#lf0" fill="#f9ab27" transform="translate(285,231) rotate(42) scale(1.26)"/><use href="#lf1" fill="#f9ab27" transform="translate(322,232) rotate(11) scale(1.09)"/><use href="#lf2" fill="#f0cc9c" transform="translate(72,233) rotate(35) scale(1.17)"/><use href="#lf1" fill="#f3b438" transform="translate(87,233) rotate(-5) scale(1.04)"/><use href="#lf1" fill="#f9ab27" transform="translate(165,233) rotate(-35) scale(0.89)"/><use href="#lf0" fill="#f0cc9c" transform="translate(252,234) rotate(-44) scale(1.25)"/><use href="#lf2" fill="#a5504a" transform="translate(236,234) rotate(67) scale(1.21)"/><use href="#lf0" fill="#f9ab27" transform="translate(159,234) rotate(-41) scale(1.17)"/><use href="#lf1" fill="#f9ab27" transform="translate(135,234) rotate(41) scale(1.23)"/><use href="#lf2" fill="#f5d8b0" transform="translate(57,234) rotate(-10) scale(1.09)"/><use href="#lf1" fill="#f3b438" transform="translate(152,235) rotate(-2) scale(1.25)"/><use href="#lf3" fill="#f9ab27" transform="translate(209,235) rotate(14) scale(1.25)"/><use href="#lf3" fill="#f9ab27" transform="translate(274,235) rotate(-19) scale(1.06)"/><use href="#lf3" fill="#f9ab27" transform="translate(47,235) rotate(44) scale(1.18)"/><use href="#lf3" fill="#f0cc9c" transform="translate(253,235) rotate(35) scale(0.96)"/><use href="#lf3" fill="#f0cc9c" transform="translate(57,236) rotate(16) scale(0.91)"/><use href="#lf0" fill="#f0cc9c" transform="translate(70,236) rotate(49) scale(0.89)"/><use href="#lf0" fill="#8f3f3a" transform="translate(367,236) rotate(-28) scale(0.95)"/><use href="#lf2" fill="#f0cc9c" transform="translate(223,236) rotate(45) scale(1.10)"/><use href="#lf2" fill="#f5d8b0" transform="translate(365,236) rotate(6) scale(1.28)"/><use href="#lf3" fill="#f0cc9c" transform="translate(98,237) rotate(6) scale(1.09)"/><use href="#lf2" fill="#f0cc9c" transform="translate(86,237) rotate(11) scale(1.13)"/><use href="#lf1" fill="#f9ab27" transform="translate(235,237) rotate(-8) scale(0.93)"/><use href="#lf0" fill="#f0cc9c" transform="translate(49,238) rotate(-69) scale(0.98)"/><use href="#lf0" fill="#a5504a" transform="translate(240,238) rotate(-14) scale(1.03)"/><use href="#lf3" fill="#f9ab27" transform="translate(308,238) rotate(60) scale(1.25)"/><use href="#lf3" fill="#f0cc9c" transform="translate(304,238) rotate(-32) scale(0.99)"/><use href="#lf3" fill="#f9ab27" transform="translate(228,239) rotate(-16) scale(1.20)"/><use href="#lf1" fill="#f9ab27" transform="translate(360,239) rotate(-12) scale(1.02)"/><use href="#lf2" fill="#f9ab27" transform="translate(71,239) rotate(-19) scale(1.21)"/><use href="#lf2" fill="#f0cc9c" transform="translate(272,240) rotate(-12) scale(1.27)"/><use href="#lf2" fill="#f0cc9c" transform="translate(200,240) rotate(27) scale(1.18)"/><use href="#lf3" fill="#8f3f3a" transform="translate(336,240) rotate(-2) scale(1.20)"/><use href="#lf0" fill="#f0cc9c" transform="translate(368,240) rotate(-14) scale(1.27)"/><use href="#lf1" fill="#f9ab27" transform="translate(318,241) rotate(-41) scale(0.90)"/><use href="#lf3" fill="#f9ab27" transform="translate(295,241) rotate(-56) scale(1.18)"/><use href="#lf1" fill="#a5504a" transform="translate(159,242) rotate(-56) scale(1.20)"/><use href="#lf0" fill="#a5504a" transform="translate(204,243) rotate(-58) scale(1.22)"/><use href="#lf0" fill="#f0cc9c" transform="translate(212,243) rotate(5) scale(1.10)"/><use href="#lf3" fill="#f9ab27" transform="translate(295,243) rotate(66) scale(1.27)"/><use href="#lf2" fill="#f9ab27" transform="translate(263,243) rotate(34) scale(1.22)"/><use href="#lf0" fill="#8f3f3a" transform="translate(329,244) rotate(43) scale(0.95)"/><use href="#lf3" fill="#f9ab27" transform="translate(104,244) rotate(25) scale(1.20)"/><use href="#lf3" fill="#a5504a" transform="translate(181,245) rotate(-7) scale(0.93)"/><use href="#lf0" fill="#f0cc9c" transform="translate(38,246) rotate(-54) scale(1.25)"/><use href="#lf1" fill="#8f3f3a" transform="translate(141,246) rotate(16) scale(0.94)"/><use href="#lf2" fill="#f5d8b0" transform="translate(292,246) rotate(-34) scale(0.94)"/><use href="#lf1" fill="#f5d8b0" transform="translate(284,246) rotate(19) scale(1.24)"/><use href="#lf0" fill="#f0cc9c" transform="translate(219,246) rotate(17) scale(1.20)"/><use href="#lf2" fill="#a5504a" transform="translate(105,247) rotate(68) scale(0.88)"/><use href="#lf0" fill="#f9ab27" transform="translate(308,247) rotate(66) scale(1.26)"/><use href="#lf1" fill="#f9ab27" transform="translate(117,248) rotate(-8) scale(1.10)"/><use href="#lf3" fill="#f9ab27" transform="translate(132,249) rotate(-32) scale(1.09)"/><use href="#lf0" fill="#f0cc9c" transform="translate(150,249) rotate(-34) scale(0.94)"/><use href="#lf3" fill="#f9ab27" transform="translate(77,249) rotate(15) scale(1.10)"/><use href="#lf2" fill="#f3b438" transform="translate(246,250) rotate(-3) scale(0.99)"/><use href="#lf3" fill="#a5504a" transform="translate(112,250) rotate(-0) scale(1.08)"/><use href="#lf3" fill="#f9ab27" transform="translate(230,250) rotate(-45) scale(0.98)"/><use href="#lf1" fill="#f3b438" transform="translate(316,250) rotate(-62) scale(1.10)"/><use href="#lf2" fill="#f9ab27" transform="translate(334,251) rotate(44) scale(1.14)"/><use href="#lf1" fill="#f9ab27" transform="translate(55,251) rotate(-3) scale(1.13)"/><use href="#lf0" fill="#f9ab27" transform="translate(172,251) rotate(28) scale(1.24)"/><use href="#lf1" fill="#f9ab27" transform="translate(204,251) rotate(46) scale(1.14)"/><use href="#lf2" fill="#f9ab27" transform="translate(145,252) rotate(-38) scale(1.16)"/><use href="#lf2" fill="#f9ab27" transform="translate(255,252) rotate(-69) scale(1.05)"/><use href="#lf2" fill="#f9ab27" transform="translate(83,252) rotate(-39) scale(1.22)"/><use href="#lf2" fill="#f3b438" transform="translate(128,253) rotate(68) scale(1.16)"/><use href="#lf0" fill="#f9ab27" transform="translate(166,253) rotate(3) scale(1.13)"/><use href="#lf1" fill="#f9ab27" transform="translate(277,253) rotate(-50) scale(1.01)"/><use href="#lf0" fill="#f9ab27" transform="translate(268,253) rotate(-64) scale(1.16)"/><use href="#lf1" fill="#f3b438" transform="translate(120,253) rotate(-56) scale(1.18)"/><use href="#lf0" fill="#f9ab27" transform="translate(216,253) rotate(-63) scale(0.99)"/><use href="#lf1" fill="#a5504a" transform="translate(123,254) rotate(-14) scale(0.93)"/><use href="#lf2" fill="#f9ab27" transform="translate(273,254) rotate(-24) scale(0.91)"/><use href="#lf1" fill="#a5504a" transform="translate(85,254) rotate(-54) scale(1.27)"/><use href="#lf0" fill="#f0cc9c" transform="translate(67,255) rotate(52) scale(1.13)"/><use href="#lf3" fill="#f0cc9c" transform="translate(336,255) rotate(17) scale(1.16)"/><use href="#lf2" fill="#f0cc9c" transform="translate(169,256) rotate(5) scale(1.11)"/><use href="#lf1" fill="#f5d8b0" transform="translate(90,256) rotate(19) scale(1.25)"/><use href="#lf1" fill="#f9ab27" transform="translate(135,256) rotate(1) scale(0.90)"/><use href="#lf0" fill="#f5d8b0" transform="translate(279,256) rotate(-9) scale(0.96)"/><use href="#lf2" fill="#f0cc9c" transform="translate(320,256) rotate(-32) scale(0.98)"/><use href="#lf2" fill="#f9ab27" transform="translate(106,257) rotate(-14) scale(1.07)"/><use href="#lf0" fill="#f0cc9c" transform="translate(125,257) rotate(67) scale(0.90)"/><use href="#lf1" fill="#f9ab27" transform="translate(76,257) rotate(-8) scale(1.13)"/><use href="#lf1" fill="#a5504a" transform="translate(258,257) rotate(11) scale(0.91)"/><use href="#lf2" fill="#f3b438" transform="translate(77,257) rotate(42) scale(1.08)"/><use href="#lf3" fill="#f0cc9c" transform="translate(148,257) rotate(-48) scale(1.25)"/><use href="#lf2" fill="#f9ab27" transform="translate(266,258) rotate(67) scale(1.04)"/><use href="#lf0" fill="#a5504a" transform="translate(92,259) rotate(26) scale(1.00)"/><use href="#lf1" fill="#a5504a" transform="translate(39,259) rotate(-69) scale(1.10)"/><use href="#lf3" fill="#f9ab27" transform="translate(267,259) rotate(9) scale(1.03)"/><use href="#lf3" fill="#a5504a" transform="translate(141,259) rotate(-10) scale(0.89)"/><use href="#lf3" fill="#f0cc9c" transform="translate(328,260) rotate(-18) scale(0.99)"/><use href="#lf0" fill="#f9ab27" transform="translate(105,261) rotate(-4) scale(0.90)"/><use href="#lf1" fill="#f5d8b0" transform="translate(126,262) rotate(46) scale(1.21)"/><use href="#lf2" fill="#f5d8b0" transform="translate(304,263) rotate(37) scale(1.10)"/><use href="#lf2" fill="#a5504a" transform="translate(77,263) rotate(10) scale(1.20)"/><use href="#lf1" fill="#f9ab27" transform="translate(108,263) rotate(45) scale(1.21)"/><use href="#lf0" fill="#f9ab27" transform="translate(306,263) rotate(63) scale(0.92)"/><use href="#lf3" fill="#f3b438" transform="translate(69,264) rotate(58) scale(1.20)"/><use href="#lf0" fill="#a5504a" transform="translate(185,264) rotate(-22) scale(1.24)"/><use href="#lf2" fill="#f0cc9c" transform="translate(78,264) rotate(-12) scale(1.13)"/><use href="#lf1" fill="#8f3f3a" transform="translate(159,264) rotate(-22) scale(1.19)"/><use href="#lf2" fill="#f9ab27" transform="translate(301,264) rotate(3) scale(1.14)"/><use href="#lf3" fill="#f9ab27" transform="translate(256,265) rotate(55) scale(1.16)"/><use href="#lf0" fill="#f9ab27" transform="translate(303,265) rotate(36) scale(1.25)"/><use href="#lf1" fill="#a5504a" transform="translate(118,265) rotate(-41) scale(1.08)"/><use href="#lf2" fill="#f9ab27" transform="translate(57,266) rotate(-38) scale(1.04)"/><use href="#lf3" fill="#f9ab27" transform="translate(102,266) rotate(-24) scale(1.28)"/><use href="#lf1" fill="#a5504a" transform="translate(299,266) rotate(-18) scale(1.18)"/><use href="#lf3" fill="#f9ab27" transform="translate(66,266) rotate(-14) scale(1.05)"/><use href="#lf0" fill="#f9ab27" transform="translate(207,267) rotate(48) scale(1.26)"/><use href="#lf0" fill="#f9ab27" transform="translate(67,267) rotate(-55) scale(1.03)"/><use href="#lf2" fill="#f0cc9c" transform="translate(240,268) rotate(-6) scale(1.27)"/><use href="#lf0" fill="#f0cc9c" transform="translate(264,268) rotate(-48) scale(1.26)"/><use href="#lf1" fill="#f0cc9c" transform="translate(270,269) rotate(-67) scale(1.27)"/><use href="#lf1" fill="#f9ab27" transform="translate(73,269) rotate(-15) scale(1.10)"/><use href="#lf1" fill="#a5504a" transform="translate(112,269) rotate(57) scale(1.28)"/><use href="#lf1" fill="#f5d8b0" transform="translate(87,269) rotate(-37) scale(1.02)"/><use href="#lf1" fill="#f0cc9c" transform="translate(64,270) rotate(12) scale(0.95)"/><use href="#lf1" fill="#f0cc9c" transform="translate(101,270) rotate(41) scale(1.05)"/><use href="#lf0" fill="#a5504a" transform="translate(115,271) rotate(27) scale(1.17)"/><use href="#lf0" fill="#f9ab27" transform="translate(82,271) rotate(39) scale(0.98)"/><use href="#lf3" fill="#a5504a" transform="translate(117,271) rotate(8) scale(1.04)"/><use href="#lf0" fill="#f9ab27" transform="translate(88,271) rotate(3) scale(0.89)"/><use href="#lf3" fill="#f9ab27" transform="translate(47,272) rotate(-26) scale(1.27)"/><use href="#lf2" fill="#f5d8b0" transform="translate(127,273) rotate(-51) scale(0.94)"/><use href="#lf3" fill="#f0cc9c" transform="translate(132,274) rotate(19) scale(1.20)"/><use href="#lf3" fill="#8f3f3a" transform="translate(201,274) rotate(28) scale(1.11)"/><use href="#lf2" fill="#f9ab27" transform="translate(87,274) rotate(-1) scale(1.21)"/><use href="#lf1" fill="#f9ab27" transform="translate(202,275) rotate(-34) scale(1.26)"/><use href="#lf2" fill="#f0cc9c" transform="translate(208,275) rotate(17) scale(1.20)"/><use href="#lf2" fill="#f9ab27" transform="translate(56,277) rotate(-34) scale(1.26)"/><use href="#lf1" fill="#f9ab27" transform="translate(141,277) rotate(9) scale(1.04)"/><use href="#lf1" fill="#f9ab27" transform="translate(120,279) rotate(64) scale(1.27)"/><use href="#lf1" fill="#a5504a" transform="translate(138,279) rotate(11) scale(0.90)"/><use href="#lf1" fill="#f9ab27" transform="translate(144,279) rotate(30) scale(1.10)"/><use href="#lf0" fill="#f9ab27" transform="translate(186,281) rotate(-15) scale(1.11)"/><use href="#lf0" fill="#a5504a" transform="translate(209,282) rotate(-59) scale(1.14)"/><use href="#lf1" fill="#f0cc9c" transform="translate(141,282) rotate(-13) scale(0.89)"/><use href="#lf0" fill="#f5d8b0" transform="translate(125,284) rotate(-52) scale(1.12)"/><use href="#lf2" fill="#f9ab27" transform="translate(87,284) rotate(49) scale(1.26)"/><use href="#lf2" fill="#f0cc9c" transform="translate(206,284) rotate(31) scale(0.96)"/><use href="#lf1" fill="#f3b438" transform="translate(200,285) rotate(-45) scale(1.19)"/><use href="#lf2" fill="#f9ab27" transform="translate(139,285) rotate(5) scale(1.02)"/><use href="#lf0" fill="#f3b438" transform="translate(163,286) rotate(-5) scale(0.96)"/><use href="#lf3" fill="#f0cc9c" transform="translate(1080,288) rotate(0) scale(1.26)"/><use href="#lf2" fill="#8f3f3a" transform="translate(1092,302) rotate(52) scale(1.19)"/><use href="#lf2" fill="#f9ab27" transform="translate(1109,308) rotate(19) scale(1.10)"/><use href="#lf2" fill="#f0cc9c" transform="translate(1448,311) rotate(-2) scale(1.00)"/><use href="#lf2" fill="#f3b438" transform="translate(1476,312) rotate(-58) scale(1.06)"/><use href="#lf0" fill="#f9ab27" transform="translate(1104,315) rotate(-52) scale(1.28)"/><use href="#lf3" fill="#8f3f3a" transform="translate(1455,318) rotate(-20) scale(1.02)"/><use href="#lf3" fill="#8f3f3a" transform="translate(1127,323) rotate(-25) scale(0.88)"/><use href="#lf2" fill="#f3b438" transform="translate(1455,324) rotate(-4) scale(1.10)"/><use href="#lf1" fill="#f9ab27" transform="translate(1447,324) rotate(60) scale(1.01)"/><use href="#lf3" fill="#f3b438" transform="translate(1454,328) rotate(-24) scale(1.20)"/><use href="#lf1" fill="#f0cc9c" transform="translate(1103,331) rotate(-58) scale(1.03)"/><use href="#lf2" fill="#f9ab27" transform="translate(1083,332) rotate(32) scale(1.17)"/><use href="#lf0" fill="#8f3f3a" transform="translate(1451,334) rotate(21) scale(1.27)"/><use href="#lf3" fill="#f9ab27" transform="translate(1465,336) rotate(-45) scale(1.23)"/><use href="#lf0" fill="#f0cc9c" transform="translate(1466,336) rotate(-32) scale(1.06)"/><use href="#lf3" fill="#8f3f3a" transform="translate(1121,338) rotate(38) scale(1.02)"/><use href="#lf3" fill="#a5504a" transform="translate(1170,338) rotate(-62) scale(0.97)"/><use href="#lf0" fill="#8f3f3a" transform="translate(1041,338) rotate(-26) scale(1.13)"/><use href="#lf3" fill="#a5504a" transform="translate(1291,339) rotate(5) scale(1.12)"/><use href="#lf3" fill="#f5d8b0" transform="translate(1103,339) rotate(-6) scale(1.23)"/><use href="#lf3" fill="#f9ab27" transform="translate(1406,340) rotate(-64) scale(1.09)"/><use href="#lf1" fill="#a5504a" transform="translate(1392,341) rotate(-52) scale(1.29)"/><use href="#lf2" fill="#f9ab27" transform="translate(1056,344) rotate(-27) scale(0.91)"/><use href="#lf0" fill="#f3b438" transform="translate(1272,344) rotate(-21) scale(0.92)"/><use href="#lf2" fill="#f9ab27" transform="translate(1049,344) rotate(24) scale(0.94)"/><use href="#lf3" fill="#f9ab27" transform="translate(1244,344) rotate(21) scale(1.28)"/><use href="#lf0" fill="#a5504a" transform="translate(1300,345) rotate(-3) scale(0.98)"/><use href="#lf0" fill="#f9ab27" transform="translate(1390,345) rotate(0) scale(0.93)"/><use href="#lf2" fill="#a5504a" transform="translate(1280,345) rotate(59) scale(0.96)"/><use href="#lf2" fill="#f3b438" transform="translate(1316,345) rotate(53) scale(1.16)"/><use href="#lf1" fill="#f9ab27" transform="translate(1381,345) rotate(-52) scale(1.08)"/><use href="#lf1" fill="#f9ab27" transform="translate(1421,347) rotate(-40) scale(0.92)"/><use href="#lf3" fill="#8f3f3a" transform="translate(1196,347) rotate(-23) scale(1.14)"/><use href="#lf1" fill="#a5504a" transform="translate(1301,347) rotate(30) scale(1.25)"/><use href="#lf1" fill="#f3b438" transform="translate(1370,348) rotate(47) scale(1.09)"/><use href="#lf3" fill="#f0cc9c" transform="translate(1326,348) rotate(-42) scale(0.95)"/><use href="#lf2" fill="#f0cc9c" transform="translate(1346,349) rotate(-52) scale(0.93)"/><use href="#lf2" fill="#a5504a" transform="translate(1428,349) rotate(9) scale(1.21)"/><use href="#lf1" fill="#f0cc9c" transform="translate(1407,349) rotate(37) scale(0.99)"/><use href="#lf0" fill="#a5504a" transform="translate(1309,349) rotate(-51) scale(1.05)"/><use href="#lf1" fill="#f0cc9c" transform="translate(1224,350) rotate(7) scale(0.89)"/><use href="#lf1" fill="#8f3f3a" transform="translate(1337,350) rotate(11) scale(0.96)"/><use href="#lf0" fill="#a5504a" transform="translate(1285,351) rotate(34) scale(1.14)"/><use href="#lf1" fill="#f0cc9c" transform="translate(1300,351) rotate(51) scale(1.18)"/><use href="#lf0" fill="#f0cc9c" transform="translate(1153,351) rotate(-65) scale(1.12)"/><use href="#lf0" fill="#f3b438" transform="translate(1429,351) rotate(27) scale(0.93)"/><use href="#lf2" fill="#f5d8b0" transform="translate(1385,352) rotate(56) scale(1.28)"/><use href="#lf2" fill="#f0cc9c" transform="translate(1274,352) rotate(-48) scale(1.28)"/><use href="#lf3" fill="#f9ab27" transform="translate(1356,352) rotate(3) scale(1.23)"/><use href="#lf3" fill="#f9ab27" transform="translate(1107,352) rotate(23) scale(1.25)"/><use href="#lf2" fill="#8f3f3a" transform="translate(1189,353) rotate(51) scale(1.00)"/><use href="#lf2" fill="#f5d8b0" transform="translate(1233,353) rotate(-68) scale(1.27)"/><use href="#lf1" fill="#a5504a" transform="translate(1236,354) rotate(32) scale(0.98)"/><use href="#lf3" fill="#f3b438" transform="translate(1350,354) rotate(-52) scale(1.05)"/><use href="#lf3" fill="#f0cc9c" transform="translate(1286,354) rotate(66) scale(1.24)"/><use href="#lf3" fill="#a5504a" transform="translate(1106,355) rotate(16) scale(1.13)"/><use href="#lf2" fill="#a5504a" transform="translate(1474,355) rotate(36) scale(1.06)"/><use href="#lf3" fill="#8f3f3a" transform="translate(1199,356) rotate(-46) scale(1.00)"/><use href="#lf1" fill="#a5504a" transform="translate(1172,356) rotate(16) scale(0.97)"/><use href="#lf2" fill="#f0cc9c" transform="translate(1334,356) rotate(-27) scale(1.16)"/><use href="#lf1" fill="#f9ab27" transform="translate(1329,356) rotate(40) scale(0.92)"/><use href="#lf2" fill="#a5504a" transform="translate(1060,356) rotate(-62) scale(1.29)"/><use href="#lf0" fill="#f5d8b0" transform="translate(1339,357) rotate(23) scale(1.21)"/><use href="#lf2" fill="#f9ab27" transform="translate(1200,357) rotate(47) scale(1.05)"/><use href="#lf1" fill="#f3b438" transform="translate(1204,357) rotate(-52) scale(1.12)"/><use href="#lf3" fill="#f9ab27" transform="translate(1387,358) rotate(-17) scale(1.13)"/><use href="#lf3" fill="#a5504a" transform="translate(1335,358) rotate(20) scale(1.26)"/><use href="#lf2" fill="#f3b438" transform="translate(1128,358) rotate(58) scale(1.21)"/><use href="#lf1" fill="#f0cc9c" transform="translate(1286,358) rotate(50) scale(1.23)"/><use href="#lf3" fill="#f0cc9c" transform="translate(1258,358) rotate(59) scale(1.13)"/><use href="#lf0" fill="#f0cc9c" transform="translate(1312,358) rotate(-37) scale(1.09)"/><use href="#lf3" fill="#8f3f3a" transform="translate(1332,359) rotate(-35) scale(0.98)"/><use href="#lf3" fill="#f5d8b0" transform="translate(1274,359) rotate(-53) scale(1.22)"/><use href="#lf1" fill="#f0cc9c" transform="translate(1265,360) rotate(65) scale(1.04)"/><use href="#lf0" fill="#a5504a" transform="translate(1107,361) rotate(-62) scale(0.98)"/><use href="#lf0" fill="#f9ab27" transform="translate(1425,361) rotate(6) scale(1.13)"/><use href="#lf2" fill="#f0cc9c" transform="translate(1368,361) rotate(-10) scale(1.04)"/><use href="#lf3" fill="#a5504a" transform="translate(1207,361) rotate(1) scale(0.92)"/><use href="#lf2" fill="#f0cc9c" transform="translate(1248,362) rotate(29) scale(1.12)"/><use href="#lf1" fill="#f3b438" transform="translate(1196,362) rotate(-3) scale(0.89)"/><use href="#lf1" fill="#f9ab27" transform="translate(1076,362) rotate(-36) scale(0.96)"/><use href="#lf0" fill="#f9ab27" transform="translate(1190,363) rotate(62) scale(1.14)"/><use href="#lf0" fill="#f3b438" transform="translate(1190,363) rotate(-51) scale(1.16)"/><use href="#lf0" fill="#a5504a" transform="translate(1256,364) rotate(22) scale(1.00)"/><use href="#lf0" fill="#f0cc9c" transform="translate(1164,364) rotate(-20) scale(1.27)"/><use href="#lf2" fill="#f0cc9c" transform="translate(1445,364) rotate(-55) scale(1.13)"/><use href="#lf3" fill="#f0cc9c" transform="translate(1303,365) rotate(62) scale(1.21)"/><use href="#lf0" fill="#f3b438" transform="translate(1311,366) rotate(1) scale(1.25)"/><use href="#lf0" fill="#8f3f3a" transform="translate(1357,367) rotate(-9) scale(0.89)"/><use href="#lf0" fill="#a5504a" transform="translate(1433,368) rotate(66) scale(1.02)"/><use href="#lf3" fill="#a5504a" transform="translate(1357,368) rotate(-59) scale(1.23)"/><use href="#lf1" fill="#f3b438" transform="translate(1466,369) rotate(-36) scale(1.05)"/><use href="#lf1" fill="#f0cc9c" transform="translate(1243,370) rotate(-68) scale(1.13)"/><use href="#lf1" fill="#f9ab27" transform="translate(1436,370) rotate(57) scale(1.00)"/><use href="#lf3" fill="#f0cc9c" transform="translate(1161,371) rotate(61) scale(1.11)"/><use href="#lf0" fill="#8f3f3a" transform="translate(1278,371) rotate(-20) scale(0.90)"/><use href="#lf0" fill="#f9ab27" transform="translate(1125,372) rotate(7) scale(0.98)"/><use href="#lf1" fill="#f0cc9c" transform="translate(1280,372) rotate(-59) scale(1.16)"/><use href="#lf3" fill="#a5504a" transform="translate(1103,373) rotate(2) scale(0.90)"/><use href="#lf3" fill="#f3b438" transform="translate(1459,373) rotate(40) scale(1.05)"/><use href="#lf1" fill="#f9ab27" transform="translate(1114,373) rotate(33) scale(0.93)"/><use href="#lf3" fill="#f5d8b0" transform="translate(1228,375) rotate(-8) scale(1.09)"/><use href="#lf2" fill="#f3b438" transform="translate(1119,375) rotate(13) scale(0.94)"/><use href="#lf1" fill="#f3b438" transform="translate(1272,375) rotate(-35) scale(0.94)"/><use href="#lf3" fill="#f0cc9c" transform="translate(1130,375) rotate(10) scale(1.14)"/><use href="#lf2" fill="#f5d8b0" transform="translate(1403,375) rotate(-44) scale(1.07)"/><use href="#lf0" fill="#8f3f3a" transform="translate(1329,375) rotate(-21) scale(1.20)"/><use href="#lf3" fill="#f9ab27" transform="translate(1214,375) rotate(17) scale(1.22)"/><use href="#lf3" fill="#a5504a" transform="translate(1235,376) rotate(48) scale(1.00)"/><use href="#lf3" fill="#f0cc9c" transform="translate(1412,376) rotate(26) scale(1.11)"/><use href="#lf3" fill="#8f3f3a" transform="translate(1244,376) rotate(-19) scale(1.17)"/><use href="#lf1" fill="#a5504a" transform="translate(1255,377) rotate(-36) scale(1.25)"/><use href="#lf3" fill="#f0cc9c" transform="translate(1280,377) rotate(63) scale(1.07)"/><use href="#lf3" fill="#f0cc9c" transform="translate(1246,377) rotate(26) scale(0.92)"/><use href="#lf3" fill="#8f3f3a" transform="translate(1089,377) rotate(14) scale(0.92)"/><use href="#lf3" fill="#f0cc9c" transform="translate(1312,378) rotate(34) scale(0.91)"/><use href="#lf2" fill="#f0cc9c" transform="translate(1240,378) rotate(37) scale(1.13)"/><use href="#lf1" fill="#8f3f3a" transform="translate(1238,378) rotate(-37) scale(0.94)"/><use href="#lf3" fill="#f3b438" transform="translate(1166,378) rotate(-0) scale(1.05)"/><use href="#lf2" fill="#f0cc9c" transform="translate(1427,378) rotate(-26) scale(0.98)"/><use href="#lf2" fill="#f0cc9c" transform="translate(1087,378) rotate(40) scale(1.14)"/><use href="#lf1" fill="#f9ab27" transform="translate(1132,379) rotate(-14) scale(1.15)"/><use href="#lf2" fill="#f0cc9c" transform="translate(1049,379) rotate(-54) scale(1.06)"/><use href="#lf2" fill="#f3b438" transform="translate(1396,379) rotate(33) scale(1.13)"/><use href="#lf3" fill="#a5504a" transform="translate(1099,379) rotate(4) scale(1.20)"/><use href="#lf0" fill="#f9ab27" transform="translate(1402,379) rotate(-37) scale(1.13)"/><use href="#lf0" fill="#f3b438" transform="translate(1370,380) rotate(-28) scale(1.02)"/><use href="#lf0" fill="#8f3f3a" transform="translate(1337,380) rotate(-13) scale(0.88)"/><use href="#lf1" fill="#a5504a" transform="translate(1424,381) rotate(19) scale(1.24)"/><use href="#lf2" fill="#f3b438" transform="translate(1374,381) rotate(16) scale(0.97)"/><use href="#lf3" fill="#a5504a" transform="translate(1445,382) rotate(46) scale(1.00)"/><use href="#lf1" fill="#a5504a" transform="translate(1115,382) rotate(-31) scale(1.07)"/><use href="#lf1" fill="#f0cc9c" transform="translate(1109,383) rotate(-36) scale(1.11)"/><use href="#lf1" fill="#8f3f3a" transform="translate(1087,384) rotate(5) scale(1.25)"/><use href="#lf2" fill="#f0cc9c" transform="translate(1373,384) rotate(-4) scale(0.96)"/><use href="#lf0" fill="#f3b438" transform="translate(1081,384) rotate(2) scale(1.12)"/><use href="#lf1" fill="#f0cc9c" transform="translate(1316,385) rotate(-4) scale(1.04)"/><use href="#lf1" fill="#8f3f3a" transform="translate(1117,386) rotate(32) scale(1.16)"/><use href="#lf1" fill="#f3b438" transform="translate(1173,386) rotate(16) scale(1.23)"/><use href="#lf0" fill="#8f3f3a" transform="translate(1333,386) rotate(-40) scale(1.29)"/><use href="#lf2" fill="#f3b438" transform="translate(1094,386) rotate(19) scale(1.07)"/><use href="#lf2" fill="#f9ab27" transform="translate(1104,387) rotate(47) scale(1.04)"/><use href="#lf2" fill="#a5504a" transform="translate(1151,387) rotate(-27) scale(1.24)"/><use href="#lf1" fill="#f5d8b0" transform="translate(1243,387) rotate(-53) scale(1.07)"/><use href="#lf0" fill="#f5d8b0" transform="translate(1121,387) rotate(53) scale(0.93)"/><use href="#lf0" fill="#a5504a" transform="translate(1119,387) rotate(52) scale(0.99)"/><use href="#lf2" fill="#f0cc9c" transform="translate(1157,387) rotate(56) scale(1.25)"/><use href="#lf1" fill="#a5504a" transform="translate(1197,388) rotate(7) scale(1.26)"/><use href="#lf2" fill="#f3b438" transform="translate(1320,389) rotate(58) scale(0.91)"/><use href="#lf2" fill="#f9ab27" transform="translate(1241,389) rotate(-42) scale(1.07)"/><use href="#lf2" fill="#f0cc9c" transform="translate(1083,391) rotate(-61) scale(1.07)"/><use href="#lf0" fill="#8f3f3a" transform="translate(1363,392) rotate(43) scale(1.14)"/><use href="#lf0" fill="#f0cc9c" transform="translate(1104,393) rotate(-48) scale(1.23)"/><use href="#lf0" fill="#f0cc9c" transform="translate(1113,393) rotate(-32) scale(1.01)"/><use href="#lf1" fill="#8f3f3a" transform="translate(1143,393) rotate(59) scale(1.09)"/><use href="#lf2" fill="#f0cc9c" transform="translate(1042,393) rotate(64) scale(1.02)"/><use href="#lf2" fill="#f9ab27" transform="translate(1272,394) rotate(-67) scale(1.11)"/><use href="#lf0" fill="#a5504a" transform="translate(1148,394) rotate(31) scale(1.14)"/><use href="#lf2" fill="#f5d8b0" transform="translate(1298,397) rotate(33) scale(0.93)"/><use href="#lf1" fill="#f9ab27" transform="translate(1327,398) rotate(-29) scale(1.08)"/><use href="#lf1" fill="#f9ab27" transform="translate(1279,399) rotate(-54) scale(1.28)"/><use href="#lf2" fill="#f3b438" transform="translate(1276,400) rotate(48) scale(1.02)"/><use href="#lf1" fill="#a5504a" transform="translate(1268,400) rotate(25) scale(1.20)"/><use href="#lf1" fill="#a5504a" transform="translate(1225,401) rotate(60) scale(0.91)"/><use href="#lf3" fill="#f3b438" transform="translate(1106,401) rotate(68) scale(1.21)"/><use href="#lf2" fill="#f9ab27" transform="translate(1215,401) rotate(21) scale(0.96)"/><use href="#lf2" fill="#a5504a" transform="translate(1255,403) rotate(-0) scale(1.05)"/><use href="#lf0" fill="#f9ab27" transform="translate(1275,403) rotate(4) scale(1.26)"/><use href="#lf3" fill="#f3b438" transform="translate(1172,403) rotate(63) scale(0.93)"/><use href="#lf2" fill="#8f3f3a" transform="translate(1222,404) rotate(33) scale(1.19)"/><use href="#lf0" fill="#f9ab27" transform="translate(1276,404) rotate(28) scale(1.13)"/><use href="#lf1" fill="#8f3f3a" transform="translate(1165,404) rotate(10) scale(1.09)"/><use href="#lf2" fill="#f9ab27" transform="translate(1159,405) rotate(67) scale(0.96)"/><use href="#lf3" fill="#f5d8b0" transform="translate(1272,406) rotate(-37) scale(0.93)"/><use href="#lf2" fill="#f9ab27" transform="translate(1160,406) rotate(-26) scale(1.06)"/><use href="#lf2" fill="#f9ab27" transform="translate(1205,407) rotate(-67) scale(0.92)"/><use href="#lf1" fill="#f5d8b0" transform="translate(1257,416) rotate(-36) scale(1.02)"/><use href="#lf1" fill="#f3b438" transform="translate(1213,416) rotate(-47) scale(0.89)"/><use href="#lf2" fill="#8f3f3a" transform="translate(1183,417) rotate(69) scale(1.04)"/><use href="#lf3" fill="#f9ab27" transform="translate(1208,422) rotate(-5) scale(1.19)"/><use href="#lf1" fill="#f9ab27" transform="translate(1201,424) rotate(-57) scale(0.88)"/><use href="#lf2" fill="#f0cc9c" transform="translate(1267,425) rotate(-43) scale(1.06)"/><line x1="637.9" y1="583.0" x2="844.9" y2="583.0" stroke="#48b049" stroke-width="4" stroke-linecap="round"/><line x1="638.4" y1="586.6" x2="848.1" y2="586.6" stroke="#4cd8e4" stroke-width="3.5" stroke-linecap="round"/><line x1="638.2" y1="591.4" x2="847.8" y2="591.4" stroke="#48b049" stroke-width="5" stroke-linecap="round"/><line x1="636.1" y1="593.4" x2="840.4" y2="593.4" stroke="#48b049" stroke-width="4" stroke-linecap="round"/><line x1="638.8" y1="596.4" x2="843.4" y2="596.4" stroke="#4cd8e4" stroke-width="4" stroke-linecap="round"/><line x1="638.7" y1="599.7" x2="834.8" y2="599.7" stroke="#48b049" stroke-width="3.5" stroke-linecap="round"/><line x1="637.4" y1="604.1" x2="836.9" y2="604.1" stroke="#4cd8e4" stroke-width="4" stroke-linecap="round"/><line x1="637.6" y1="607.5" x2="842.2" y2="607.5" stroke="#48b049" stroke-width="3.5" stroke-linecap="round"/><line x1="636.0" y1="612.9" x2="836.5" y2="612.9" stroke="#4cd8e4" stroke-width="5" stroke-linecap="round"/><line x1="636.8" y1="616.5" x2="847.7" y2="616.5" stroke="#4cd8e4" stroke-width="3.5" stroke-linecap="round"/><line x1="638.3" y1="620.2" x2="835.6" y2="620.2" stroke="#48b049" stroke-width="3.5" stroke-linecap="round"/><line x1="638.4" y1="623.6" x2="835.2" y2="623.6" stroke="#4cd8e4" stroke-width="3.5" stroke-linecap="round"/><line x1="637.9" y1="625.9" x2="835.0" y2="625.9" stroke="#48b049" stroke-width="3" stroke-linecap="round"/><line x1="636.0" y1="628.1" x2="846.9" y2="628.1" stroke="#4cd8e4" stroke-width="3" stroke-linecap="round"/><line x1="636.6" y1="631.8" x2="836.4" y2="631.8" stroke="#48b049" stroke-width="3.5" stroke-linecap="round"/><line x1="638.9" y1="636.3" x2="847.0" y2="636.3" stroke="#48b049" stroke-width="3" stroke-linecap="round"/><line x1="636.9" y1="640.8" x2="848.4" y2="640.8" stroke="#4cd8e4" stroke-width="5" stroke-linecap="round"/><line x1="637.6" y1="644.3" x2="843.8" y2="644.3" stroke="#4cd8e4" stroke-width="3.5" stroke-linecap="round"/><line x1="636.6" y1="647.4" x2="848.1" y2="647.4" stroke="#48b049" stroke-width="3.5" stroke-linecap="round"/><line x1="638.1" y1="652.4" x2="848.5" y2="652.4" stroke="#4cd8e4" stroke-width="3" stroke-linecap="round"/><line x1="638.7" y1="657.2" x2="837.8" y2="657.2" stroke="#48b049" stroke-width="3.5" stroke-linecap="round"/><line x1="637.1" y1="660.4" x2="835.7" y2="660.4" stroke="#4cd8e4" stroke-width="3.5" stroke-linecap="round"/><line x1="636.4" y1="664.3" x2="834.0" y2="664.3" stroke="#4cd8e4" stroke-width="5" stroke-linecap="round"/><line x1="636.9" y1="667.0" x2="842.6" y2="667.0" stroke="#4cd8e4" stroke-width="3" stroke-linecap="round"/><line x1="636.0" y1="672.9" x2="843.8" y2="672.9" stroke="#48b049" stroke-width="4" stroke-linecap="round"/><line x1="637.0" y1="676.5" x2="838.0" y2="676.5" stroke="#4cd8e4" stroke-width="3" stroke-linecap="round"/><line x1="638.5" y1="680.1" x2="840.7" y2="680.1" stroke="#48b049" stroke-width="3.5" stroke-linecap="round"/><line x1="636.9" y1="682.8" x2="840.7" y2="682.8" stroke="#4cd8e4" stroke-width="3.5" stroke-linecap="round"/><line x1="638.1" y1="686.2" x2="833.9" y2="686.2" stroke="#48b049" stroke-width="3" stroke-linecap="round"/><line x1="638.9" y1="690.8" x2="833.4" y2="690.8" stroke="#48b049" stroke-width="3.5" stroke-linecap="round"/><line x1="638.2" y1="693.3" x2="846.5" y2="693.3" stroke="#4cd8e4" stroke-width="3" stroke-linecap="round"/><line x1="636.1" y1="699.2" x2="845.6" y2="699.2" stroke="#4cd8e4" stroke-width="3" stroke-linecap="round"/><line x1="637.1" y1="703.3" x2="842.3" y2="703.3" stroke="#48b049" stroke-width="3" stroke-linecap="round"/><line x1="636.0" y1="709.4" x2="833.7" y2="709.4" stroke="#4cd8e4" stroke-width="3" stroke-linecap="round"/><line x1="636.5" y1="712.2" x2="848.3" y2="712.2" stroke="#48b049" stroke-width="3" stroke-linecap="round"/><line x1="636.6" y1="715.3" x2="845.1" y2="715.3" stroke="#4cd8e4" stroke-width="3" stroke-linecap="round"/><line x1="638.8" y1="720.1" x2="848.1" y2="720.1" stroke="#48b049" stroke-width="3" stroke-linecap="round"/><line x1="637.0" y1="726.0" x2="838.7" y2="726.0" stroke="#4cd8e4" stroke-width="3.5" stroke-linecap="round"/><line x1="637.6" y1="728.3" x2="845.4" y2="728.3" stroke="#48b049" stroke-width="1.5" stroke-linecap="round"/><line x1="636.3" y1="730.1" x2="845.0" y2="730.1" stroke="#4cd8e4" stroke-width="3" stroke-linecap="round"/><line x1="665" y1="17" x2="665.3" y2="313" stroke="#111" stroke-width="4" stroke-linecap="round"/><line x1="675" y1="17.5" x2="861" y2="17.5" stroke="#111" stroke-width="3.2" stroke-linecap="round"/><line x1="860.3" y1="23" x2="860.3" y2="313.5" stroke="#111" stroke-width="3" stroke-linecap="round"/><line x1="688" y1="91.4" x2="860" y2="91.4" stroke="#111" stroke-width="3" stroke-linecap="round"/><line x1="665" y1="313.2" x2="860" y2="313.2" stroke="#111" stroke-width="3" stroke-linecap="round"/><line x1="681" y1="102.8" x2="849.5" y2="102.8" stroke="#48b049" stroke-width="5.8" stroke-linecap="round"/><line x1="679" y1="112.1" x2="851" y2="112.1" stroke="#4cd8e4" stroke-width="5.6" stroke-linecap="round"/><line x1="631.5" y1="492.5" x2="631" y2="825" stroke="#111" stroke-width="4" stroke-linecap="round"/><line x1="633" y1="493.6" x2="853" y2="493.6" stroke="#111" stroke-width="3.2" stroke-linecap="round"/><line x1="853.5" y1="493" x2="853.5" y2="826" stroke="#111" stroke-width="4.3" stroke-linecap="round"/><line x1="632" y1="576.3" x2="853" y2="576.3" stroke="#111" stroke-width="3.2" stroke-linecap="round"/><line x1="658" y1="825" x2="853" y2="825.5" stroke="#111" stroke-width="3.8" stroke-linecap="round"/><path transform="translate(408.5,62.5) scale(11.70,19.70)" d="M0.05,0.22 L0.55,0 L0.5,1 M0.1,1 L1,0.98" vector-effect="non-scaling-stroke" fill="none" stroke="#111" stroke-width="3.6" stroke-linecap="round" stroke-linejoin="round"/><path transform="translate(436.4,69.7) scale(9.00,11.70)" d="M0.1,0.05 L0.05,1 M0.08,0.5 C0.3,0.08 0.7,-0.05 1,0.15" vector-effect="non-scaling-stroke" fill="none" stroke="#111" stroke-width="3.6" stroke-linecap="round" stroke-linejoin="round"/><path transform="translate(452.6,74.2) scale(9.90,9.90)" d="M0.05,0.55 L0.95,0.38 C0.95,0 0.25,-0.08 0.06,0.45 C-0.02,0.95 0.6,1.05 0.95,0.85" vector-effect="non-scaling-stroke" fill="none" stroke="#111" stroke-width="3.6" stroke-linecap="round" stroke-linejoin="round"/><path transform="translate(468.8,75.1) scale(7.10,9.00)" d="M0.95,0.15 C0.6,-0.05 0.05,0.15 0.05,0.55 C0.05,0.95 0.6,1.05 0.95,0.85" vector-effect="non-scaling-stroke" fill="none" stroke="#111" stroke-width="3.6" stroke-linecap="round" stroke-linejoin="round"/><path transform="translate(482.2,75.1) scale(11.70,9.90)" d="M1.000,0.500 L0.983,0.629 L0.933,0.750 L0.854,0.854 L0.750,0.933 L0.629,0.983 L0.500,1.000 L0.371,0.983 L0.250,0.933 L0.146,0.854 L0.067,0.750 L0.017,0.629 L0.000,0.500 L0.017,0.371 L0.067,0.250 L0.146,0.146 L0.250,0.067 L0.371,0.017 L0.500,0.000 L0.629,0.017 L0.750,0.067 L0.854,0.146 L0.933,0.250 L0.983,0.371Z" vector-effect="non-scaling-stroke" fill="none" stroke="#111" stroke-width="3.6" stroke-linecap="round" stroke-linejoin="round"/><path transform="translate(500.2,76.0) scale(8.00,9.90)" d="M0.1,0.05 L0.05,1 M0.08,0.5 C0.3,0.08 0.7,-0.05 1,0.15" vector-effect="non-scaling-stroke" fill="none" stroke="#111" stroke-width="3.6" stroke-linecap="round" stroke-linejoin="round"/><path transform="translate(514.6,61.6) scale(18.90,28.80)" d="M0.8,0.55 C0.55,0.38 0.04,0.45 0.04,0.75 C0.04,1.02 0.65,1.02 0.82,0.72 M0.98,0 L0.85,1" vector-effect="non-scaling-stroke" fill="none" stroke="#111" stroke-width="3.6" stroke-linecap="round" stroke-linejoin="round"/><path transform="translate(686.0,36.6) scale(25.40,30.50)" d="M0,0.06 L1,0 M0.58,0.03 L0.35,1" vector-effect="non-scaling-stroke" fill="none" stroke="#111" stroke-width="3.2" stroke-linecap="round" stroke-linejoin="round"/><path transform="translate(710.3,50.3) scale(16.10,16.10)" d="M0.1,0.05 L0.05,1 M0.08,0.5 C0.3,0.08 0.7,-0.05 1,0.15" vector-effect="non-scaling-stroke" fill="none" stroke="#111" stroke-width="3.2" stroke-linecap="round" stroke-linejoin="round"/><path transform="translate(733.2,53.1) scale(17.60,16.30)" d="M0.05,0.55 L0.95,0.38 C0.95,0 0.25,-0.08 0.06,0.45 C-0.02,0.95 0.6,1.05 0.95,0.85" vector-effect="non-scaling-stroke" fill="none" stroke="#111" stroke-width="3.2" stroke-linecap="round" stroke-linejoin="round"/><path transform="translate(760.5,51.6) scale(16.10,16.20)" d="M0.05,0.55 L0.95,0.38 C0.95,0 0.25,-0.08 0.06,0.45 C-0.02,0.95 0.6,1.05 0.95,0.85" vector-effect="non-scaling-stroke" fill="none" stroke="#111" stroke-width="3.2" stroke-linecap="round" stroke-linejoin="round"/><path transform="translate(786.2,53.1) scale(9.70,18.30)" d="M0.92,0.1 C0.6,-0.05 0.05,0.05 0.2,0.35 C0.35,0.55 0.95,0.5 0.9,0.8 C0.85,1.02 0.3,1.02 0,0.85" vector-effect="non-scaling-stroke" fill="none" stroke="#111" stroke-width="3.2" stroke-linecap="round" stroke-linejoin="round"/><path transform="translate(1033.3,157.1) scale(12.60,18.20)" d="M0.05,0.22 L0.55,0 L0.5,1 M0.1,1 L1,0.98" vector-effect="non-scaling-stroke" fill="none" stroke="#111" stroke-width="3.0" stroke-linecap="round" stroke-linejoin="round"/><path transform="translate(1055.3,169.9) scale(8.20,9.40)" d="M0.1,0.05 L0.05,1 M0.08,0.5 C0.3,0.08 0.7,-0.05 1,0.15" vector-effect="non-scaling-stroke" fill="none" stroke="#111" stroke-width="3.0" stroke-linecap="round" stroke-linejoin="round"/><path transform="translate(1067.3,172.3) scale(11.40,12.20)" d="M0.05,0.55 L0.95,0.38 C0.95,0 0.25,-0.08 0.06,0.45 C-0.02,0.95 0.6,1.05 0.95,0.85" vector-effect="non-scaling-stroke" fill="none" stroke="#111" stroke-width="3.0" stroke-linecap="round" stroke-linejoin="round"/><path transform="translate(1084.9,176.7) scale(4.60,11.80)" d="M0.95,0.15 C0.6,-0.05 0.05,0.15 0.05,0.55 C0.05,0.95 0.6,1.05 0.95,0.85" vector-effect="non-scaling-stroke" fill="none" stroke="#111" stroke-width="3.0" stroke-linecap="round" stroke-linejoin="round"/><path transform="translate(1091.2,180.3) scale(11.30,10.60)" d="M1.000,0.500 L0.983,0.629 L0.933,0.750 L0.854,0.854 L0.750,0.933 L0.629,0.983 L0.500,1.000 L0.371,0.983 L0.250,0.933 L0.146,0.854 L0.067,0.750 L0.017,0.629 L0.000,0.500 L0.017,0.371 L0.067,0.250 L0.146,0.146 L0.250,0.067 L0.371,0.017 L0.500,0.000 L0.629,0.017 L0.750,0.067 L0.854,0.146 L0.933,0.250 L0.983,0.371Z" vector-effect="non-scaling-stroke" fill="none" stroke="#111" stroke-width="3.0" stroke-linecap="round" stroke-linejoin="round"/><path transform="translate(1104.8,181.9) scale(8.20,9.00)" d="M0.1,0.05 L0.05,1 M0.08,0.5 C0.3,0.08 0.7,-0.05 1,0.15" vector-effect="non-scaling-stroke" fill="none" stroke="#111" stroke-width="3.0" stroke-linecap="round" stroke-linejoin="round"/><path transform="translate(1116.0,171.5) scale(16.20,22.60)" d="M0.8,0.55 C0.55,0.38 0.04,0.45 0.04,0.75 C0.04,1.02 0.65,1.02 0.82,0.72 M0.98,0 L0.85,1" vector-effect="non-scaling-stroke" fill="none" stroke="#111" stroke-width="3.0" stroke-linecap="round" stroke-linejoin="round"/><path transform="translate(65.4,67.8) scale(20.40,87.40)" d="M0.05,0.22 C0.1,-0.06 0.95,-0.08 0.9,0.3 C0.85,0.6 0.25,0.85 0.02,1 C0.4,0.95 0.7,0.95 1,0.96" vector-effect="non-scaling-stroke" fill="none" stroke="#111" stroke-width="3.6" stroke-linecap="round" stroke-linejoin="round"/><path transform="translate(95.4,67.8) scale(26.30,86.40)" d="M1.000,0.500 L0.983,0.629 L0.933,0.750 L0.854,0.854 L0.750,0.933 L0.629,0.983 L0.500,1.000 L0.371,0.983 L0.250,0.933 L0.146,0.854 L0.067,0.750 L0.017,0.629 L0.000,0.500 L0.017,0.371 L0.067,0.250 L0.146,0.146 L0.250,0.067 L0.371,0.017 L0.500,0.000 L0.629,0.017 L0.750,0.067 L0.854,0.146 L0.933,0.250 L0.983,0.371Z M0.2,0.8 L0.8,0.2" vector-effect="non-scaling-stroke" fill="none" stroke="#111" stroke-width="3.6" stroke-linecap="round" stroke-linejoin="round"/><path transform="translate(132.5,61.8) scale(19.20,92.40)" d="M0.05,0.22 C0.1,-0.06 0.95,-0.08 0.9,0.3 C0.85,0.6 0.25,0.85 0.02,1 C0.4,0.95 0.7,0.95 1,0.96" vector-effect="non-scaling-stroke" fill="none" stroke="#111" stroke-width="3.6" stroke-linecap="round" stroke-linejoin="round"/><path transform="translate(160.1,55.8) scale(19.10,97.10)" d="M0.05,0.22 C0.1,-0.06 0.95,-0.08 0.9,0.3 C0.85,0.6 0.25,0.85 0.02,1 C0.4,0.95 0.7,0.95 1,0.96" vector-effect="non-scaling-stroke" fill="none" stroke="#111" stroke-width="3.6" stroke-linecap="round" stroke-linejoin="round"/><path transform="translate(208.1,66.6) scale(13.10,80.30)" d="M0.2,0 L0.05,1 L1,0.96" vector-effect="non-scaling-stroke" fill="none" stroke="#111" stroke-width="3.6" stroke-linecap="round" stroke-linejoin="round"/><path transform="translate(233.3,124.1) scale(13.20,14.40)" d="M1.000,0.500 L0.983,0.629 L0.933,0.750 L0.854,0.854 L0.750,0.933 L0.629,0.983 L0.500,1.000 L0.371,0.983 L0.250,0.933 L0.146,0.854 L0.067,0.750 L0.017,0.629 L0.000,0.500 L0.017,0.371 L0.067,0.250 L0.146,0.146 L0.250,0.067 L0.371,0.017 L0.500,0.000 L0.629,0.017 L0.750,0.067 L0.854,0.146 L0.933,0.250 L0.983,0.371Z" vector-effect="non-scaling-stroke" fill="none" stroke="#111" stroke-width="3.6" stroke-linecap="round" stroke-linejoin="round"/><path transform="translate(251.3,121.8) scale(21.60,33.40)" d="M0.88,0.12 C0.6,-0.04 0.05,0.0 0.05,0.28 C0.05,0.55 0.7,0.55 0.88,0.2 M0.92,0.02 L0.9,0.75 C0.85,1 0.3,1.04 0.08,0.82" vector-effect="non-scaling-stroke" fill="none" stroke="#111" stroke-width="3.6" stroke-linecap="round" stroke-linejoin="round"/><path transform="translate(1223.7,228.7) scale(28.60,94.60)" d="M0.05,0.22 C0.1,-0.06 0.95,-0.08 0.9,0.3 C0.85,0.6 0.25,0.85 0.02,1 C0.4,0.95 0.7,0.95 1,0.96" vector-effect="non-scaling-stroke" fill="none" stroke="#111" stroke-width="3.4" stroke-linecap="round" stroke-linejoin="round"/><path transform="translate(1259.1,241.7) scale(23.00,83.60)" d="M1.000,0.500 L0.983,0.629 L0.933,0.750 L0.854,0.854 L0.750,0.933 L0.629,0.983 L0.500,1.000 L0.371,0.983 L0.250,0.933 L0.146,0.854 L0.067,0.750 L0.017,0.629 L0.000,0.500 L0.017,0.371 L0.067,0.250 L0.146,0.146 L0.250,0.067 L0.371,0.017 L0.500,0.000 L0.629,0.017 L0.750,0.067 L0.854,0.146 L0.933,0.250 L0.983,0.371Z M0.2,0.8 L0.8,0.2" vector-effect="non-scaling-stroke" fill="none" stroke="#111" stroke-width="3.4" stroke-linecap="round" stroke-linejoin="round"/><path transform="translate(1285.5,238.7) scale(23.80,88.60)" d="M0.05,0.22 C0.1,-0.06 0.95,-0.08 0.9,0.3 C0.85,0.6 0.25,0.85 0.02,1 C0.4,0.95 0.7,0.95 1,0.96" vector-effect="non-scaling-stroke" fill="none" stroke="#111" stroke-width="3.4" stroke-linecap="round" stroke-linejoin="round"/><path transform="translate(1318.5,243.1) scale(17.50,81.20)" d="M0.05,0.1 C0.3,-0.05 1,0 0.85,0.25 C0.75,0.4 0.45,0.45 0.35,0.47 C0.85,0.45 1.05,0.72 0.85,0.9 C0.65,1.04 0.25,1 0,0.92" vector-effect="non-scaling-stroke" fill="none" stroke="#111" stroke-width="3.4" stroke-linecap="round" stroke-linejoin="round"/><path transform="translate(1360.3,252.7) scale(14.00,70.60)" d="M0.2,0 L0.05,1 L1,0.96" vector-effect="non-scaling-stroke" fill="none" stroke="#111" stroke-width="3.4" stroke-linecap="round" stroke-linejoin="round"/><path transform="translate(1384.5,304.7) scale(10.80,16.30)" d="M1.000,0.500 L0.983,0.629 L0.933,0.750 L0.854,0.854 L0.750,0.933 L0.629,0.983 L0.500,1.000 L0.371,0.983 L0.250,0.933 L0.146,0.854 L0.067,0.750 L0.017,0.629 L0.000,0.500 L0.017,0.371 L0.067,0.250 L0.146,0.146 L0.250,0.067 L0.371,0.017 L0.500,0.000 L0.629,0.017 L0.750,0.067 L0.854,0.146 L0.933,0.250 L0.983,0.371Z" vector-effect="non-scaling-stroke" fill="none" stroke="#111" stroke-width="3.4" stroke-linecap="round" stroke-linejoin="round"/><path transform="translate(1399.7,303.5) scale(18.60,32.80)" d="M0.88,0.12 C0.6,-0.04 0.05,0.0 0.05,0.28 C0.05,0.55 0.7,0.55 0.88,0.2 M0.92,0.02 L0.9,0.75 C0.85,1 0.3,1.04 0.08,0.82" vector-effect="non-scaling-stroke" fill="none" stroke="#111" stroke-width="3.4" stroke-linecap="round" stroke-linejoin="round"/><path transform="translate(644.8,512.3) scale(13.70,47.80)" d="M0.2,0 L0.05,1 L1,0.96" vector-effect="non-scaling-stroke" fill="none" stroke="#111" stroke-width="4.6" stroke-linecap="round" stroke-linejoin="round"/><path transform="translate(669.8,539.8) scale(12.90,20.30)" d="M0.05,0.55 L0.95,0.38 C0.95,0 0.25,-0.08 0.06,0.45 C-0.02,0.95 0.6,1.05 0.95,0.85" vector-effect="non-scaling-stroke" fill="none" stroke="#111" stroke-width="4.6" stroke-linecap="round" stroke-linejoin="round"/><path transform="translate(693.1,540.6) scale(15.40,19.50)" d="M0.8,0.22 C0.55,-0.08 0.03,0.1 0.03,0.62 C0.03,1.05 0.7,1 0.8,0.25 L0.8,0.85 C0.82,1 0.92,1 1,0.95" vector-effect="non-scaling-stroke" fill="none" stroke="#111" stroke-width="4.6" stroke-linecap="round" stroke-linejoin="round"/><path transform="translate(718.9,513.1) scale(15.40,47.00)" d="M1,0.08 C0.72,-0.05 0.5,0.08 0.45,0.4 L0.35,1 M0.02,0.55 L0.8,0.52" vector-effect="non-scaling-stroke" fill="none" stroke="#111" stroke-width="4.6" stroke-linecap="round" stroke-linejoin="round"/><path transform="translate(752.3,512.3) scale(22.80,49.40)" d="M0.2,0.02 L0.05,1 M0.18,0.02 C1.25,-0.1 1.2,1.05 0.05,1" vector-effect="non-scaling-stroke" fill="none" stroke="#111" stroke-width="4.6" stroke-linecap="round" stroke-linejoin="round"/><path transform="translate(783.0,543.1) scale(15.40,17.00)" d="M0.8,0.22 C0.55,-0.08 0.03,0.1 0.03,0.62 C0.03,1.05 0.7,1 0.8,0.25 L0.8,0.85 C0.82,1 0.92,1 1,0.95" vector-effect="non-scaling-stroke" fill="none" stroke="#111" stroke-width="4.6" stroke-linecap="round" stroke-linejoin="round"/><path transform="translate(806.3,537.3) scale(8.80,17.00)" d="M0.55,0 L0.45,1 M0,0.4 L1,0.4" vector-effect="non-scaling-stroke" fill="none" stroke="#111" stroke-width="4.6" stroke-linecap="round" stroke-linejoin="round"/><path transform="translate(819.7,543.1) scale(17.00,16.20)" d="M0.8,0.22 C0.55,-0.08 0.03,0.1 0.03,0.62 C0.03,1.05 0.7,1 0.8,0.25 L0.8,0.85 C0.82,1 0.92,1 1,0.95" vector-effect="non-scaling-stroke" fill="none" stroke="#111" stroke-width="4.6" stroke-linecap="round" stroke-linejoin="round"/><path transform="translate(204.6,399.1) scale(39.40,10.00)" d="M0,0.55 C0.15,0.05 0.38,0 0.5,0.5 C0.62,1 0.85,0.9 1,0.3" vector-effect="non-scaling-stroke" fill="none" stroke="#111" stroke-width="3.2" stroke-linecap="round" stroke-linejoin="round"/><path transform="translate(258.6,396.1) scale(19.80,29.30)" d="M0.4,0.05 L0.0,0.45 L0.7,0.4 M1,0 L0.45,1" vector-effect="non-scaling-stroke" fill="none" stroke="#111" stroke-width="3.2" stroke-linecap="round" stroke-linejoin="round"/><path transform="translate(281.6,399.6) scale(29.80,28.80)" d="M1,0.03 L0.3,0.08 L0.15,0.45 C0.5,0.33 1,0.43 0.92,0.72 C0.82,1.02 0.3,1.02 0,0.88" vector-effect="non-scaling-stroke" fill="none" stroke="#111" stroke-width="3.2" stroke-linecap="round" stroke-linejoin="round"/><path transform="translate(313.6,402.6) scale(29.40,31.80)" d="M0.865,0.045 L0.925,0.095 L0.968,0.160 L0.994,0.238 L1.000,0.326 L0.987,0.421 L0.955,0.519 L0.906,0.616 L0.842,0.708 L0.764,0.793 L0.676,0.867 L0.581,0.926 L0.483,0.969 L0.386,0.994 L0.293,1.000 L0.208,0.987 L0.135,0.955 L0.075,0.905 L0.032,0.840 L0.006,0.762 L0.000,0.674 L0.013,0.579 L0.045,0.481 L0.094,0.384 L0.158,0.292 L0.236,0.207 L0.324,0.133 L0.419,0.074 L0.517,0.031 L0.614,0.006 L0.707,0.000 L0.792,0.013Z M0.3,0.62 L0.78,0.4" vector-effect="non-scaling-stroke" fill="none" stroke="#111" stroke-width="3.2" stroke-linecap="round" stroke-linejoin="round"/><path transform="translate(341.1,438.6) scale(3.30,7.80)" d="M1,0 L0,1" vector-effect="non-scaling-stroke" fill="none" stroke="#111" stroke-width="3.2" stroke-linecap="round" stroke-linejoin="round"/><path transform="translate(360.1,415.2) scale(29.80,26.80)" d="M0.865,0.045 L0.925,0.095 L0.968,0.160 L0.994,0.238 L1.000,0.326 L0.987,0.421 L0.955,0.519 L0.906,0.616 L0.842,0.708 L0.764,0.793 L0.676,0.867 L0.581,0.926 L0.483,0.969 L0.386,0.994 L0.293,1.000 L0.208,0.987 L0.135,0.955 L0.075,0.905 L0.032,0.840 L0.006,0.762 L0.000,0.674 L0.013,0.579 L0.045,0.481 L0.094,0.384 L0.158,0.292 L0.236,0.207 L0.324,0.133 L0.419,0.074 L0.517,0.031 L0.614,0.006 L0.707,0.000 L0.792,0.013Z M0.3,0.62 L0.78,0.4" vector-effect="non-scaling-stroke" fill="none" stroke="#111" stroke-width="3.2" stroke-linecap="round" stroke-linejoin="round"/><path transform="translate(399.1,422.6) scale(26.80,24.80)" d="M0.865,0.045 L0.925,0.095 L0.968,0.160 L0.994,0.238 L1.000,0.326 L0.987,0.421 L0.955,0.519 L0.906,0.616 L0.842,0.708 L0.764,0.793 L0.676,0.867 L0.581,0.926 L0.483,0.969 L0.386,0.994 L0.293,1.000 L0.208,0.987 L0.135,0.955 L0.075,0.905 L0.032,0.840 L0.006,0.762 L0.000,0.674 L0.013,0.579 L0.045,0.481 L0.094,0.384 L0.158,0.292 L0.236,0.207 L0.324,0.133 L0.419,0.074 L0.517,0.031 L0.614,0.006 L0.707,0.000 L0.792,0.013Z M0.3,0.62 L0.78,0.4" vector-effect="non-scaling-stroke" fill="none" stroke="#111" stroke-width="3.2" stroke-linecap="round" stroke-linejoin="round"/><path transform="translate(432.6,429.1) scale(25.80,24.30)" d="M0.865,0.045 L0.925,0.095 L0.968,0.160 L0.994,0.238 L1.000,0.326 L0.987,0.421 L0.955,0.519 L0.906,0.616 L0.842,0.708 L0.764,0.793 L0.676,0.867 L0.581,0.926 L0.483,0.969 L0.386,0.994 L0.293,1.000 L0.208,0.987 L0.135,0.955 L0.075,0.905 L0.032,0.840 L0.006,0.762 L0.000,0.674 L0.013,0.579 L0.045,0.481 L0.094,0.384 L0.158,0.292 L0.236,0.207 L0.324,0.133 L0.419,0.074 L0.517,0.031 L0.614,0.006 L0.707,0.000 L0.792,0.013Z M0.3,0.62 L0.78,0.4" vector-effect="non-scaling-stroke" fill="none" stroke="#111" stroke-width="3.2" stroke-linecap="round" stroke-linejoin="round"/><path transform="translate(456.6,456.6) scale(1.80,9.30)" d="M1,0 L0,1" vector-effect="non-scaling-stroke" fill="none" stroke="#111" stroke-width="3.2" stroke-linecap="round" stroke-linejoin="round"/><path transform="translate(476.6,444.1) scale(21.80,16.80)" d="M0.865,0.045 L0.925,0.095 L0.968,0.160 L0.994,0.238 L1.000,0.326 L0.987,0.421 L0.955,0.519 L0.906,0.616 L0.842,0.708 L0.764,0.793 L0.676,0.867 L0.581,0.926 L0.483,0.969 L0.386,0.994 L0.293,1.000 L0.208,0.987 L0.135,0.955 L0.075,0.905 L0.032,0.840 L0.006,0.762 L0.000,0.674 L0.013,0.579 L0.045,0.481 L0.094,0.384 L0.158,0.292 L0.236,0.207 L0.324,0.133 L0.419,0.074 L0.517,0.031 L0.614,0.006 L0.707,0.000 L0.792,0.013Z M0.3,0.62 L0.78,0.4" vector-effect="non-scaling-stroke" fill="none" stroke="#111" stroke-width="3.2" stroke-linecap="round" stroke-linejoin="round"/><path transform="translate(504.1,447.6) scale(24.30,19.80)" d="M0.865,0.045 L0.925,0.095 L0.968,0.160 L0.994,0.238 L1.000,0.326 L0.987,0.421 L0.955,0.519 L0.906,0.616 L0.842,0.708 L0.764,0.793 L0.676,0.867 L0.581,0.926 L0.483,0.969 L0.386,0.994 L0.293,1.000 L0.208,0.987 L0.135,0.955 L0.075,0.905 L0.032,0.840 L0.006,0.762 L0.000,0.674 L0.013,0.579 L0.045,0.481 L0.094,0.384 L0.158,0.292 L0.236,0.207 L0.324,0.133 L0.419,0.074 L0.517,0.031 L0.614,0.006 L0.707,0.000 L0.792,0.013Z M0.3,0.62 L0.78,0.4" vector-effect="non-scaling-stroke" fill="none" stroke="#111" stroke-width="3.2" stroke-linecap="round" stroke-linejoin="round"/><path transform="translate(534.1,452.6) scale(21.80,20.80)" d="M0.865,0.045 L0.925,0.095 L0.968,0.160 L0.994,0.238 L1.000,0.326 L0.987,0.421 L0.955,0.519 L0.906,0.616 L0.842,0.708 L0.764,0.793 L0.676,0.867 L0.581,0.926 L0.483,0.969 L0.386,0.994 L0.293,1.000 L0.208,0.987 L0.135,0.955 L0.075,0.905 L0.032,0.840 L0.006,0.762 L0.000,0.674 L0.013,0.579 L0.045,0.481 L0.094,0.384 L0.158,0.292 L0.236,0.207 L0.324,0.133 L0.419,0.074 L0.517,0.031 L0.614,0.006 L0.707,0.000 L0.792,0.013Z M0.3,0.62 L0.78,0.4" vector-effect="non-scaling-stroke" fill="none" stroke="#111" stroke-width="3.2" stroke-linecap="round" stroke-linejoin="round"/><path transform="translate(244.2,443.2) scale(5.90,29.30)" d="M0.85,0 L0.15,1" vector-effect="non-scaling-stroke" fill="none" stroke="#111" stroke-width="3.4" stroke-linecap="round" stroke-linejoin="round"/><path transform="translate(256.3,460.0) scale(14.30,17.10)" d="M0.05,0.55 L0.95,0.38 C0.95,0 0.25,-0.08 0.06,0.45 C-0.02,0.95 0.6,1.05 0.95,0.85" vector-effect="non-scaling-stroke" fill="none" stroke="#111" stroke-width="3.4" stroke-linecap="round" stroke-linejoin="round"/><path transform="translate(274.9,462.7) scale(17.20,19.10)" d="M0.8,0.22 C0.55,-0.08 0.03,0.1 0.03,0.62 C0.03,1.05 0.7,1 0.8,0.25 L0.8,0.85 C0.82,1 0.92,1 1,0.95" vector-effect="non-scaling-stroke" fill="none" stroke="#111" stroke-width="3.4" stroke-linecap="round" stroke-linejoin="round"/><path transform="translate(296.4,449.7) scale(15.30,34.90)" d="M1,0.08 C0.72,-0.05 0.5,0.08 0.45,0.4 L0.35,1 M0.02,0.55 L0.8,0.52" vector-effect="non-scaling-stroke" fill="none" stroke="#111" stroke-width="3.4" stroke-linecap="round" stroke-linejoin="round"/><path transform="translate(337.4,471.2) scale(21.00,17.20)" d="M0.1,0.05 L0.05,1 M0.08,0.5 C0.3,0.08 0.7,-0.05 1,0.15" vector-effect="non-scaling-stroke" fill="none" stroke="#111" stroke-width="5.2" stroke-linecap="round" stroke-linejoin="round"/><path transform="translate(365.1,475.5) scale(16.90,20.60)" d="M0.05,0.55 L0.95,0.38 C0.95,0 0.25,-0.08 0.06,0.45 C-0.02,0.95 0.6,1.05 0.95,0.85" vector-effect="non-scaling-stroke" fill="none" stroke="#111" stroke-width="4.6" stroke-linecap="round" stroke-linejoin="round"/><path transform="translate(389.8,480.6) scale(13.20,17.00)" d="M0.95,0.15 C0.6,-0.05 0.05,0.15 0.05,0.55 C0.05,0.95 0.6,1.05 0.95,0.85" vector-effect="non-scaling-stroke" fill="none" stroke="#111" stroke-width="3.6" stroke-linecap="round" stroke-linejoin="round"/><path transform="translate(418.7,486.1) scale(15.20,13.40)" d="M1.000,0.500 L0.983,0.629 L0.933,0.750 L0.854,0.854 L0.750,0.933 L0.629,0.983 L0.500,1.000 L0.371,0.983 L0.250,0.933 L0.146,0.854 L0.067,0.750 L0.017,0.629 L0.000,0.500 L0.017,0.371 L0.067,0.250 L0.146,0.146 L0.250,0.067 L0.371,0.017 L0.500,0.000 L0.629,0.017 L0.750,0.067 L0.854,0.146 L0.933,0.250 L0.983,0.371Z" vector-effect="non-scaling-stroke" fill="none" stroke="#111" stroke-width="3.4" stroke-linecap="round" stroke-linejoin="round"/><path transform="translate(440.1,488.0) scale(13.20,12.50)" d="M0.1,0.05 L0.05,1 M0.08,0.5 C0.3,0.08 0.7,-0.05 1,0.15" vector-effect="non-scaling-stroke" fill="none" stroke="#111" stroke-width="3.4" stroke-linecap="round" stroke-linejoin="round"/><path transform="translate(457.1,480.9) scale(26.80,30.40)" d="M0.8,0.55 C0.55,0.38 0.04,0.45 0.04,0.75 C0.04,1.02 0.65,1.02 0.82,0.72 M0.98,0 L0.85,1" vector-effect="non-scaling-stroke" fill="none" stroke="#111" stroke-width="4.2" stroke-linecap="round" stroke-linejoin="round"/><path transform="translate(488.5,499.1) scale(10.80,15.40)" d="M0.92,0.1 C0.6,-0.05 0.05,0.05 0.2,0.35 C0.35,0.55 0.95,0.5 0.9,0.8 C0.85,1.02 0.3,1.02 0,0.85" vector-effect="non-scaling-stroke" fill="none" stroke="#111" stroke-width="5" stroke-linecap="round" stroke-linejoin="round"/><path transform="translate(906.6,556.6) scale(44.30,10.55)" d="M0,0.55 C0.15,0.05 0.38,0 0.5,0.5 C0.62,1 0.85,0.9 1,0.3" vector-effect="non-scaling-stroke" fill="none" stroke="#111" stroke-width="3.2" stroke-linecap="round" stroke-linejoin="round"/><path transform="translate(966.0,534.1) scale(21.70,34.30)" d="M0.85,0.05 C0.3,0.18 0,0.5 0.04,0.78 C0.1,1.02 0.65,1.04 0.85,0.85 C1.02,0.62 0.6,0.45 0.12,0.66" vector-effect="non-scaling-stroke" fill="none" stroke="#111" stroke-width="3.2" stroke-linecap="round" stroke-linejoin="round"/><path transform="translate(997.6,529.6) scale(20.80,31.80)" d="M1.000,0.500 L0.983,0.629 L0.933,0.750 L0.854,0.854 L0.750,0.933 L0.629,0.983 L0.500,1.000 L0.371,0.983 L0.250,0.933 L0.146,0.854 L0.067,0.750 L0.017,0.629 L0.000,0.500 L0.017,0.371 L0.067,0.250 L0.146,0.146 L0.250,0.067 L0.371,0.017 L0.500,0.000 L0.629,0.017 L0.750,0.067 L0.854,0.146 L0.933,0.250 L0.983,0.371Z M0.08,1.06 L1.3,0.0" vector-effect="non-scaling-stroke" fill="none" stroke="#111" stroke-width="3.2" stroke-linecap="round" stroke-linejoin="round"/><path transform="translate(1029.6,525.3) scale(20.40,26.10)" d="M1.000,0.500 L0.983,0.629 L0.933,0.750 L0.854,0.854 L0.750,0.933 L0.629,0.983 L0.500,1.000 L0.371,0.983 L0.250,0.933 L0.146,0.854 L0.067,0.750 L0.017,0.629 L0.000,0.500 L0.017,0.371 L0.067,0.250 L0.146,0.146 L0.250,0.067 L0.371,0.017 L0.500,0.000 L0.629,0.017 L0.750,0.067 L0.854,0.146 L0.933,0.250 L0.983,0.371Z M0.08,1.06 L1.3,0.0" vector-effect="non-scaling-stroke" fill="none" stroke="#111" stroke-width="3.2" stroke-linecap="round" stroke-linejoin="round"/><path transform="translate(1074.6,518.6) scale(20.80,26.80)" d="M1.000,0.500 L0.983,0.629 L0.933,0.750 L0.854,0.854 L0.750,0.933 L0.629,0.983 L0.500,1.000 L0.371,0.983 L0.250,0.933 L0.146,0.854 L0.067,0.750 L0.017,0.629 L0.000,0.500 L0.017,0.371 L0.067,0.250 L0.146,0.146 L0.250,0.067 L0.371,0.017 L0.500,0.000 L0.629,0.017 L0.750,0.067 L0.854,0.146 L0.933,0.250 L0.983,0.371Z M0.08,1.06 L1.3,0.0" vector-effect="non-scaling-stroke" fill="none" stroke="#111" stroke-width="3.2" stroke-linecap="round" stroke-linejoin="round"/><path transform="translate(1104.2,514.6) scale(19.00,26.40)" d="M1.000,0.500 L0.983,0.629 L0.933,0.750 L0.854,0.854 L0.750,0.933 L0.629,0.983 L0.500,1.000 L0.371,0.983 L0.250,0.933 L0.146,0.854 L0.067,0.750 L0.017,0.629 L0.000,0.500 L0.017,0.371 L0.067,0.250 L0.146,0.146 L0.250,0.067 L0.371,0.017 L0.500,0.000 L0.629,0.017 L0.750,0.067 L0.854,0.146 L0.933,0.250 L0.983,0.371Z M0.2,0.8 L0.8,0.2" vector-effect="non-scaling-stroke" fill="none" stroke="#111" stroke-width="3.2" stroke-linecap="round" stroke-linejoin="round"/><path transform="translate(1133.0,510.0) scale(18.90,25.00)" d="M1.000,0.500 L0.983,0.629 L0.933,0.750 L0.854,0.854 L0.750,0.933 L0.629,0.983 L0.500,1.000 L0.371,0.983 L0.250,0.933 L0.146,0.854 L0.067,0.750 L0.017,0.629 L0.000,0.500 L0.017,0.371 L0.067,0.250 L0.146,0.146 L0.250,0.067 L0.371,0.017 L0.500,0.000 L0.629,0.017 L0.750,0.067 L0.854,0.146 L0.933,0.250 L0.983,0.371Z M0.08,1.06 L1.3,0.0" vector-effect="non-scaling-stroke" fill="none" stroke="#111" stroke-width="3.2" stroke-linecap="round" stroke-linejoin="round"/><path transform="translate(1165.2,528.2) scale(1.50,6.10)" d="M0.5,0.2 L0.5,0.8" vector-effect="non-scaling-stroke" fill="none" stroke="#111" stroke-width="4.5" stroke-linecap="round" stroke-linejoin="round"/><path transform="translate(1177.3,500.4) scale(24.40,28.60)" d="M1.000,0.500 L0.983,0.629 L0.933,0.750 L0.854,0.854 L0.750,0.933 L0.629,0.983 L0.500,1.000 L0.371,0.983 L0.250,0.933 L0.146,0.854 L0.067,0.750 L0.017,0.629 L0.000,0.500 L0.017,0.371 L0.067,0.250 L0.146,0.146 L0.250,0.067 L0.371,0.017 L0.500,0.000 L0.629,0.017 L0.750,0.067 L0.854,0.146 L0.933,0.250 L0.983,0.371Z M0.08,1.06 L1.3,0.0" vector-effect="non-scaling-stroke" fill="none" stroke="#111" stroke-width="3.2" stroke-linecap="round" stroke-linejoin="round"/><path transform="translate(1210.3,499.2) scale(19.60,25.60)" d="M1.000,0.500 L0.983,0.629 L0.933,0.750 L0.854,0.854 L0.750,0.933 L0.629,0.983 L0.500,1.000 L0.371,0.983 L0.250,0.933 L0.146,0.854 L0.067,0.750 L0.017,0.629 L0.000,0.500 L0.017,0.371 L0.067,0.250 L0.146,0.146 L0.250,0.067 L0.371,0.017 L0.500,0.000 L0.629,0.017 L0.750,0.067 L0.854,0.146 L0.933,0.250 L0.983,0.371Z M0.08,1.06 L1.3,0.0" vector-effect="non-scaling-stroke" fill="none" stroke="#111" stroke-width="3.2" stroke-linecap="round" stroke-linejoin="round"/><path transform="translate(1240.3,495.0) scale(22.00,24.40)" d="M1.000,0.500 L0.983,0.629 L0.933,0.750 L0.854,0.854 L0.750,0.933 L0.629,0.983 L0.500,1.000 L0.371,0.983 L0.250,0.933 L0.146,0.854 L0.067,0.750 L0.017,0.629 L0.000,0.500 L0.017,0.371 L0.067,0.250 L0.146,0.146 L0.250,0.067 L0.371,0.017 L0.500,0.000 L0.629,0.017 L0.750,0.067 L0.854,0.146 L0.933,0.250 L0.983,0.371Z M0.08,1.06 L1.3,0.0" vector-effect="non-scaling-stroke" fill="none" stroke="#111" stroke-width="3.2" stroke-linecap="round" stroke-linejoin="round"/><path transform="translate(982.6,583.1) scale(3.50,31.70)" d="M0.85,0 L0.15,1" vector-effect="non-scaling-stroke" fill="none" stroke="#111" stroke-width="3.2" stroke-linecap="round" stroke-linejoin="round"/><path transform="translate(989.3,595.6) scale(15.50,13.80)" d="M0.05,0.55 L0.95,0.38 C0.95,0 0.25,-0.08 0.06,0.45 C-0.02,0.95 0.6,1.05 0.95,0.85" vector-effect="non-scaling-stroke" fill="none" stroke="#111" stroke-width="3.2" stroke-linecap="round" stroke-linejoin="round"/><path transform="translate(1008.0,595.6) scale(14.70,13.20)" d="M0.8,0.22 C0.55,-0.08 0.03,0.1 0.03,0.62 C0.03,1.05 0.7,1 0.8,0.25 L0.8,0.85 C0.82,1 0.92,1 1,0.95" vector-effect="non-scaling-stroke" fill="none" stroke="#111" stroke-width="3.2" stroke-linecap="round" stroke-linejoin="round"/><path transform="translate(1028.4,572.1) scale(15.50,35.90)" d="M1,0.08 C0.72,-0.05 0.5,0.08 0.45,0.4 L0.35,1 M0.02,0.55 L0.8,0.52" vector-effect="non-scaling-stroke" fill="none" stroke="#111" stroke-width="3.2" stroke-linecap="round" stroke-linejoin="round"/><path transform="translate(1070.2,578.2) scale(16.00,22.00)" d="M0.1,0.05 L0.05,1 M0.08,0.5 C0.3,0.08 0.7,-0.05 1,0.15" vector-effect="non-scaling-stroke" fill="none" stroke="#111" stroke-width="3.6" stroke-linecap="round" stroke-linejoin="round"/><path transform="translate(1095.6,580.6) scale(18.80,14.60)" d="M0.05,0.55 L0.95,0.38 C0.95,0 0.25,-0.08 0.06,0.45 C-0.02,0.95 0.6,1.05 0.95,0.85" vector-effect="non-scaling-stroke" fill="none" stroke="#111" stroke-width="3.2" stroke-linecap="round" stroke-linejoin="round"/><path transform="translate(1126.1,573.6) scale(10.30,15.80)" d="M0.95,0.15 C0.6,-0.05 0.05,0.15 0.05,0.55 C0.05,0.95 0.6,1.05 0.95,0.85" vector-effect="non-scaling-stroke" fill="none" stroke="#111" stroke-width="3.2" stroke-linecap="round" stroke-linejoin="round"/><path transform="translate(1145.6,570.4) scale(12.80,16.30)" d="M1.000,0.500 L0.983,0.629 L0.933,0.750 L0.854,0.854 L0.750,0.933 L0.629,0.983 L0.500,1.000 L0.371,0.983 L0.250,0.933 L0.146,0.854 L0.067,0.750 L0.017,0.629 L0.000,0.500 L0.017,0.371 L0.067,0.250 L0.146,0.146 L0.250,0.067 L0.371,0.017 L0.500,0.000 L0.629,0.017 L0.750,0.067 L0.854,0.146 L0.933,0.250 L0.983,0.371Z" vector-effect="non-scaling-stroke" fill="none" stroke="#111" stroke-width="3.2" stroke-linecap="round" stroke-linejoin="round"/><path transform="translate(1162.6,564.4) scale(15.50,19.00)" d="M0.1,0.05 L0.05,1 M0.08,0.5 C0.3,0.08 0.7,-0.05 1,0.15" vector-effect="non-scaling-stroke" fill="none" stroke="#111" stroke-width="3.2" stroke-linecap="round" stroke-linejoin="round"/><path transform="translate(1181.3,551.6) scale(15.50,30.80)" d="M0.8,0.55 C0.55,0.38 0.04,0.45 0.04,0.75 C0.04,1.02 0.65,1.02 0.82,0.72 M0.98,0 L0.85,1" vector-effect="non-scaling-stroke" fill="none" stroke="#111" stroke-width="3.2" stroke-linecap="round" stroke-linejoin="round"/><path transform="translate(1208.6,559.3) scale(9.40,20.60)" d="M0.92,0.1 C0.6,-0.05 0.05,0.05 0.2,0.35 C0.35,0.55 0.95,0.5 0.9,0.8 C0.85,1.02 0.3,1.02 0,0.85" vector-effect="non-scaling-stroke" fill="none" stroke="#111" stroke-width="3.2" stroke-linecap="round" stroke-linejoin="round"/>
</svg></body></html>
